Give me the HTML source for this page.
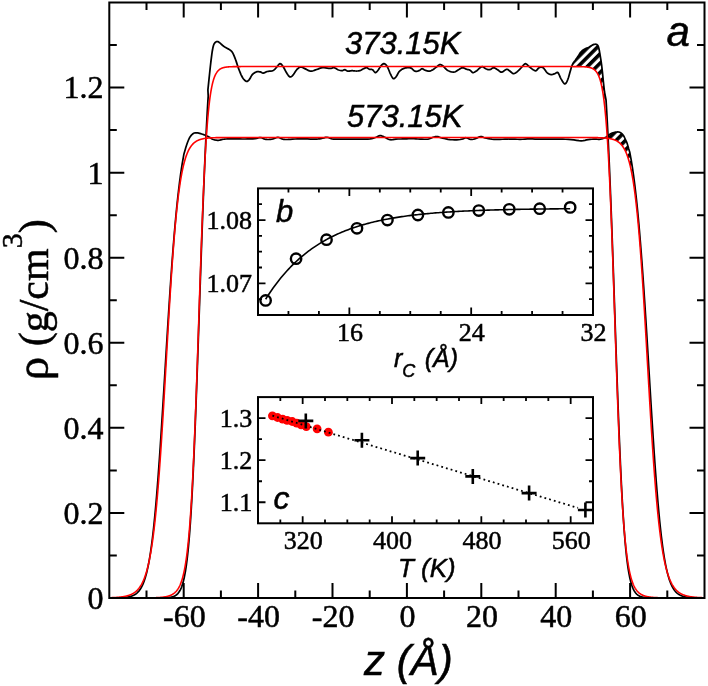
<!DOCTYPE html><html><head><meta charset="utf-8"><style>html,body{margin:0;padding:0;background:#fff;}svg{display:block;will-change:transform;} text{stroke:#000;stroke-width:0.5px;}</style></head><body><svg width="708" height="686" viewBox="0 0 708 686">
<defs><pattern id="hp" patternUnits="userSpaceOnUse" x="-1.4" y="0" width="6.6" height="6.6" patternTransform="rotate(45)"><rect x="0" y="0" width="3.6" height="6.6" fill="#000"/></pattern><clipPath id="mc"><rect x="109.3" y="2.5" width="595.2" height="595.5"/></clipPath></defs>
<rect width="708" height="686" fill="#fff"/>
<polygon points="570.7,69.7 571.14,68.27 571.53,67.04 571.89,65.96 572.26,64.97 572.7,64 573.2,63.1 573.75,62.3 574.32,61.55 574.91,60.8 575.5,60 576.12,59.11 576.77,58.17 577.42,57.22 578.05,56.32 578.6,55.5 579.05,54.79 579.41,54.15 579.75,53.57 580.13,52.99 580.6,52.4 581.18,51.78 581.82,51.14 582.52,50.52 583.25,49.93 584,49.4 584.82,48.94 585.71,48.53 586.62,48.16 587.47,47.82 588.2,47.5 588.77,47.21 589.23,46.95 589.63,46.71 590.03,46.47 590.5,46.2 591.05,45.88 591.63,45.52 592.23,45.16 592.83,44.84 593.4,44.6 593.95,44.43 594.5,44.31 595.03,44.25 595.54,44.24 596,44.3 596.42,44.41 596.81,44.56 597.16,44.78 597.49,45.09 597.8,45.5 598.08,46.02 598.33,46.64 598.56,47.35 598.78,48.14 599,49 599.21,49.94 599.4,50.96 599.6,52.06 599.79,53.24 600,54.5 600.23,55.86 600.48,57.33 600.72,58.87 600.97,60.44 601.2,62 601.41,63.5 601.6,64.97 601.8,66.49 601.99,68.14 602.2,70 602.43,72.18 602.67,74.61 602.92,77.15 603.16,79.66 603.4,82 603.64,84.29 603.9,86.62 604.14,88.82 604.35,90.67 604.5,92 605.84,118.47 605.68,116.62 605.52,114.84 605.36,113.11 605.2,111.43 605.03,109.82 604.87,108.25 604.71,106.74 604.55,105.27 604.39,103.86 604.23,102.49 604.07,101.18 603.91,99.9 603.75,98.67 603.59,97.48 603.43,96.34 603.27,95.23 603.11,94.16 602.95,93.13 602.79,92.14 602.63,91.18 602.47,90.26 602.31,89.37 602.15,88.51 601.99,87.68 601.83,86.88 601.67,86.11 601.52,85.37 601.36,84.66 601.2,83.97 601.04,83.31 600.88,82.67 600.72,82.06 600.57,81.47 600.41,80.9 600.25,80.35 600.09,79.82 599.93,79.31 599.78,78.82 599.62,78.35 599.46,77.9 599.3,77.46 599.15,77.04 598.99,76.64 598.83,76.25 598.67,75.88 598.52,75.52 598.36,75.17 598.2,74.84 598.05,74.52 597.89,74.21 597.73,73.91 597.57,73.63 597.42,73.35 597.26,73.09 597.1,72.84 596.95,72.59 596.79,72.36 596.63,72.13 596.47,71.91 596.32,71.71 596.16,71.51 596,71.31 595.85,71.13 595.69,70.95 595.53,70.78 595.38,70.61 595.22,70.46 595.06,70.3 594.9,70.16 594.75,70.02 594.59,69.88 594.43,69.75 594.28,69.63 594.12,69.51 593.96,69.39 593.8,69.28 593.65,69.17 593.49,69.07 593.33,68.97 593.17,68.88 593.01,68.79 592.86,68.7 592.7,68.62 592.54,68.54 592.38,68.46 592.22,68.38 592.07,68.31 591.91,68.24 591.75,68.18 591.59,68.11 591.43,68.05 591.27,67.99 591.12,67.94 590.96,67.88 590.8,67.83 590.64,67.78 590.48,67.73 590.32,67.69 590.16,67.64 590,67.6 589.84,67.56 589.68,67.52 589.52,67.48 589.36,67.45 589.2,67.41 589.04,67.38 588.88,67.35 588.72,67.31 588.56,67.28 588.4,67.26 588.23,67.23 588.07,67.2 587.91,67.18 587.75,67.15 587.59,67.13 587.43,67.11 587.26,67.09 587.1,67.06 586.94,67.04 586.78,67.03 586.61,67.01 586.45,66.99 586.29,66.97 586.12,66.96 585.96,66.94 585.79,66.92 585.63,66.91 585.47,66.9 585.3,66.88 585.14,66.87 584.97,66.86 584.8,66.85 584.64,66.83 584.47,66.82 584.31,66.81 584.14,66.8 583.97,66.79 583.81,66.78 583.64,66.77 583.47,66.77 583.31,66.76 583.14,66.75 582.97,66.74 582.8,66.73 582.63,66.73 582.46,66.72 582.29,66.71 582.12,66.71 581.95,66.7 581.78,66.7 581.61,66.69 581.44,66.69 581.27,66.68 581.1,66.68 580.93,66.67 580.76,66.67 580.59,66.66 580.41,66.66 580.24,66.65 580.07,66.65 579.89,66.65 579.72,66.64 579.55,66.64 579.37,66.64 579.2,66.63 579.02,66.63 578.85,66.63 578.67,66.62 578.49,66.62 578.32,66.62 578.14,66.62 577.96,66.61 577.79,66.61 577.61,66.61 577.43,66.61 577.25,66.61 577.07,66.6 576.89,66.6 576.71,66.6 576.53,66.6 576.35,66.6 576.17,66.59 575.99,66.59 575.81,66.59 575.63,66.59 575.44,66.59 575.26,66.59 575.08,66.59 574.89,66.58 574.71,66.58 574.52,66.58 574.34,66.58 574.15,66.58 573.97,66.58 573.78,66.58 573.59,66.58 573.41,66.58 573.22,66.58 573.03,66.58 572.84,66.57 572.65,66.57 572.47,66.57 572.28,66.57 572.08,66.57 571.89,66.57 571.7,66.57 571.51,66.57 571.32,66.57 571.13,66.57 570.93,66.57 570.74,66.57 570.55,66.57" fill="url(#hp)" stroke="none"/>
<polygon points="607.8,135.9 608.51,135.36 609.07,134.84 609.63,134.35 610.3,133.9 611.16,133.49 612.12,133.11 613.1,132.77 614,132.5 614.8,132.3 615.54,132.16 616.24,132.06 616.9,132 617.5,131.96 618.05,131.96 618.57,132 619.1,132.1 619.63,132.26 620.15,132.46 620.67,132.74 621.2,133.1 621.75,133.55 622.32,134.09 622.88,134.7 623.4,135.4 623.88,136.19 624.32,137.08 624.75,138.02 625.2,139 625.68,140 626.17,141.05 626.65,142.15 627.1,143.3 627.54,144.66 627.97,146.17 628.34,147.54 628.6,148.5 629.7,152 629.95,153.28 630.2,154.59 630.45,155.93 630.7,157.31 630.95,158.72 631.21,160.16 631.46,161.64 631.71,163.16 631.96,164.71 631.86,173.63 631.61,172.32 631.36,171.05 631.11,169.83 630.85,168.65 630.6,167.5 630.35,166.4 630.1,165.33 629.85,164.3 629.59,163.31 629.34,162.35 629.09,161.43 628.84,160.54 628.59,159.67 628.34,158.84 628.09,158.04 627.84,157.27 627.59,156.53 627.34,155.81 627.09,155.12 626.84,154.45 626.59,153.81 626.34,153.19 626.09,152.6 625.84,152.02 625.59,151.47 625.34,150.94 625.09,150.43 624.84,149.93 624.59,149.46 624.34,149 624.09,148.56 623.84,148.13 623.59,147.73 623.34,147.33 623.09,146.96 622.85,146.59 622.6,146.24 622.35,145.9 622.1,145.58 621.85,145.27 621.6,144.97 621.35,144.68 621.11,144.4 620.86,144.14 620.61,143.88 620.36,143.63 620.11,143.4 619.87,143.17 619.62,142.95 619.37,142.74 619.12,142.53 618.87,142.34 618.63,142.15 618.38,141.97 618.13,141.8 617.88,141.63 617.64,141.47 617.39,141.31 617.14,141.17 616.89,141.02 616.64,140.89 616.4,140.75 616.15,140.63 615.9,140.51 615.65,140.39 615.41,140.28 615.16,140.17 614.91,140.06 614.67,139.96 614.42,139.87 614.17,139.78 613.92,139.69 613.68,139.6 613.43,139.52 613.18,139.44 612.93,139.36 612.69,139.29 612.44,139.22 612.19,139.16 611.94,139.09 611.7,139.03 611.45,138.97 611.2,138.91 610.95,138.86 610.71,138.8 610.46,138.75 610.21,138.7 609.96,138.66 609.72,138.61 609.47,138.57 609.22,138.53 608.97,138.49 608.73,138.45 608.48,138.41 608.23,138.38 607.98,138.34 607.73,138.31" fill="url(#hp)" stroke="none"/>
<g clip-path="url(#mc)" fill="none" stroke-linejoin="round">
<polyline points="109.4,597.97 109.64,597.97 109.89,597.97 110.13,597.96 110.37,597.96 110.62,597.96 110.86,597.96 111.1,597.96 111.35,597.96 111.59,597.95 111.83,597.95 112.08,597.95 112.32,597.95 112.56,597.94 112.81,597.94 113.05,597.94 113.29,597.94 113.54,597.93 113.78,597.93 114.02,597.93 114.27,597.92 114.51,597.92 114.75,597.92 115,597.91 115.24,597.91 115.48,597.9 115.73,597.9 115.97,597.89 116.21,597.89 116.46,597.88 116.7,597.88 116.94,597.87 117.19,597.87 117.43,597.86 117.67,597.86 117.92,597.85 118.16,597.84 118.4,597.83 118.65,597.83 118.89,597.82 119.13,597.81 119.38,597.8 119.62,597.79 119.86,597.78 120.11,597.77 120.35,597.76 120.59,597.75 120.84,597.74 121.08,597.73 121.32,597.71 121.57,597.7 121.81,597.69 122.05,597.67 122.3,597.66 122.54,597.64 122.78,597.63 123.03,597.61 123.27,597.59 123.51,597.57 123.76,597.55 124,597.53 124.24,597.51 124.49,597.49 124.73,597.46 124.97,597.44 125.22,597.41 125.46,597.39 125.7,597.36 125.95,597.33 126.19,597.3 126.43,597.27 126.68,597.23 126.92,597.2 127.16,597.16 127.41,597.12 127.65,597.08 127.89,597.04 128.14,597 128.38,596.95 128.62,596.9 128.87,596.85 129.11,596.8 129.35,596.75 129.6,596.69 129.84,596.63 130.08,596.57 130.33,596.5 130.57,596.44 130.81,596.37 131.06,596.29 131.3,596.21 131.54,596.13 131.79,596.05 132.03,595.96 132.27,595.87 132.52,595.77 132.76,595.67 133,595.57 133.25,595.46 133.49,595.35 133.73,595.23 133.98,595.1 134.22,594.97 134.46,594.84 134.71,594.7 134.95,594.55 135.19,594.4 135.44,594.24 135.68,594.07 135.92,593.9 136.17,593.72 136.41,593.53 136.65,593.33 136.9,593.12 137.14,592.91 137.38,592.69 137.63,592.45 137.87,592.21 138.11,591.96 138.36,591.7 138.6,591.42 138.84,591.14 139.09,590.84 139.33,590.53 139.57,590.21 139.82,589.87 140.06,589.52 140.3,589.16 140.55,588.78 140.79,588.39 141.03,587.98 141.28,587.55 141.52,587.11 141.76,586.65 142.01,586.17 142.25,585.68 142.49,585.16 142.74,584.62 142.98,584.07 143.22,583.49 143.47,582.89 143.71,582.26 143.95,581.62 144.2,580.95 144.44,580.25 144.68,579.53 144.93,578.78 145.17,578 145.41,577.2 145.66,576.36 145.9,575.5 146.14,574.61 146.39,573.68 146.63,572.72 146.87,571.73 147.12,570.71 147.36,569.65 147.6,568.55 147.85,567.42 148.09,566.25 148.33,565.04 148.58,563.79 148.82,562.5 149.06,561.17 149.31,559.8 149.55,558.38 149.79,556.93 150.04,555.42 150.28,553.87 150.52,552.28 150.77,550.64 151.01,548.95 151.25,547.21 151.5,545.42 151.74,543.59 151.98,541.7 152.23,539.76 152.47,537.77 152.71,535.73 152.96,533.64 153.2,531.49 153.44,529.29 153.69,527.04 153.93,524.73 154.17,522.37 154.42,519.95 154.66,517.48 154.9,514.95 155.15,512.37 155.39,509.74 155.63,507.05 155.88,504.3 156.12,501.51 156.36,498.66 156.61,495.75 156.85,492.79 157.09,489.78 157.34,486.72 157.58,483.61 157.82,480.45 158.07,477.23 158.31,473.97 158.55,470.66 158.8,467.31 159.04,463.91 159.28,460.47 159.53,456.98 159.77,453.45 160.01,449.88 160.26,446.28 160.5,442.63 160.74,438.96 160.99,435.24 161.23,431.5 161.47,427.72 161.72,423.92 161.96,420.09 162.2,416.23 162.45,412.35 162.69,408.45 162.93,404.54 163.18,400.6 163.42,396.65 163.66,392.68 163.91,388.71 164.15,384.73 164.39,380.74 164.64,376.74 164.88,372.74 165.12,368.74 165.37,364.74 165.61,360.75 165.85,356.76 166.1,352.78 166.34,348.8 166.58,344.84 166.83,340.89 167.07,336.96 167.31,333.04 167.56,329.14 167.8,325.26 168.04,321.41 168.29,317.57 168.53,313.76 168.77,309.98 169.02,306.23 169.26,302.5 169.5,298.81 169.75,295.14 169.99,291.52 170.23,287.92 170.48,284.36 170.72,280.84 170.96,277.36 171.21,273.91 171.45,270.51 171.69,267.14 171.94,263.82 172.18,260.53 172.42,257.29 172.67,254.09 172.91,250.94 173.15,247.83 173.4,244.77 173.64,241.75 173.88,238.77 174.13,235.84 174.37,232.96 174.61,230.12 174.86,227.32 175.1,224.58 175.34,221.88 175.59,219.22 175.83,216.61 176.07,214.05 176.32,211.53 176.56,209.06 176.8,206.64 177.05,204.25 177.29,201.92 177.53,199.63 177.78,197.38 178.02,195.17 178.26,193.01 178.51,190.9 178.75,188.82 178.99,186.79 179.24,184.8 179.48,182.85 179.72,180.94 179.97,179.08 180.21,177.25 180.45,175.46 180.7,173.71 180.94,172 181.18,170.33 181.43,168.69 181.67,167.09 181.91,165.53 182.16,164 183.8,154.6 184.16,153.32 184.68,151.47 185.25,149.44 185.8,147.6 186.3,146.01 186.8,144.49 187.3,143.04 187.8,141.7 188.29,140.46 188.77,139.32 189.26,138.27 189.8,137.3 190.38,136.42 190.99,135.62 191.64,134.91 192.3,134.3 192.98,133.78 193.69,133.34 194.42,133.01 195.2,132.8 196.02,132.73 196.89,132.78 197.78,132.92 198.7,133.1 199.64,133.33 200.62,133.62 201.61,133.96 202.6,134.3 203.62,134.65 204.66,135.03 205.67,135.42 206.6,135.8 207.42,136.17 208.17,136.53 208.88,136.9 209.6,137.3 210.31,137.77 210.99,138.28 211.7,138.78 212.5,139.2 213.45,139.54 214.49,139.82 215.54,140.04 216.5,140.2 217.32,140.29 218.07,140.31 218.78,140.28 219.5,140.2 220.18,140.05 220.82,139.83 221.53,139.6 222.4,139.4 223.44,139.24 224.61,139.1 225.92,138.98 227.4,138.9 229.06,138.86 230.89,138.86 232.87,138.88 235,138.9 237.33,138.93 239.85,138.97 242.44,139 245,139 247.61,138.97 250.29,138.93 252.83,138.85 255,138.7 256.69,138.4 258.04,137.99 259.2,137.64 260.3,137.5 261.33,137.69 262.23,138.09 263.09,138.55 264,138.9 264.96,139.13 265.92,139.32 266.92,139.45 268,139.5 269.18,139.46 270.44,139.34 271.73,139.15 273,138.9 274.25,138.5 275.51,137.96 276.73,137.5 277.9,137.3 278.98,137.5 280.01,137.96 281,138.5 282,138.9 282.89,139.15 283.69,139.33 284.65,139.45 286,139.5 287.88,139.44 290.12,139.29 292.56,139.12 295,139 297.43,138.94 299.94,138.91 302.48,138.89 305,138.9 307.59,138.95 310.25,139.03 312.78,139.09 315,139.1 316.78,139.04 318.25,138.94 319.59,138.8 321,138.6 322.52,138.26 324.06,137.82 325.57,137.44 327,137.3 328.25,137.53 329.38,138 330.56,138.52 332,138.9 333.74,139.08 335.69,139.16 337.79,139.19 340,139.2 342.36,139.18 344.88,139.11 347.45,139.03 350,139 352.5,139.03 355,139.11 357.5,139.18 360,139.2 362.59,139.19 365.25,139.16 367.78,139.08 370,138.9 371.83,138.59 373.38,138.19 374.73,137.74 376,137.3 377.14,136.81 378.12,136.27 379.05,135.82 380,135.6 380.95,135.68 381.88,135.97 382.86,136.4 384,136.9 385.36,137.57 386.88,138.42 388.45,139.2 390,139.7 391.43,139.78 392.81,139.59 394.29,139.3 396,139.1 398.09,139.02 400.44,138.98 402.82,138.95 405,138.9 406.87,138.81 408.56,138.71 410.23,138.62 412,138.6 413.93,138.68 415.94,138.83 417.98,138.99 420,139.1 422.07,139.18 424.19,139.24 426.21,139.24 428,139.1 429.48,138.75 430.75,138.25 431.89,137.72 433,137.3 434.07,136.98 435.06,136.71 436.02,136.54 437,136.5 437.93,136.65 438.81,136.95 439.79,137.33 441,137.7 442.5,138.1 444.21,138.54 446.06,138.96 448,139.3 450.11,139.56 452.39,139.76 454.65,139.89 456.7,139.9 458.52,139.77 460.21,139.51 461.71,139.2 463,138.9 463.94,138.54 464.59,138.12 465.2,137.79 466,137.7 467.06,138 468.26,138.59 469.53,139.18 470.8,139.5 472.08,139.47 473.41,139.24 474.73,138.89 476,138.5 477.22,137.99 478.41,137.35 479.56,136.78 480.7,136.5 481.74,136.61 482.71,136.99 483.74,137.48 485,137.9 486.54,138.26 488.27,138.63 490.12,138.96 492,139.2 493.88,139.32 495.81,139.35 497.84,139.33 500,139.3 502.36,139.24 504.88,139.14 507.45,139.04 510,139 512.5,139.05 515,139.16 517.5,139.26 520,139.3 522.5,139.23 525,139.1 527.5,138.97 530,138.9 532.5,138.94 535,139.03 537.5,139.14 540,139.2 542.5,139.2 545,139.17 547.5,139.13 550,139.1 552.47,139.08 554.92,139.06 557.41,139.06 560,139.1 562.77,139.17 565.66,139.27 568.54,139.41 571.3,139.6 573.94,139.91 576.52,140.31 578.96,140.65 581.2,140.8 583.16,140.65 584.89,140.31 586.53,139.91 588.2,139.6 589.97,139.41 591.76,139.26 593.47,139.16 595,139.1 596.27,139.13 597.36,139.23 598.36,139.32 599.4,139.3 600.49,139.17 601.57,138.96 602.64,138.68 603.7,138.3 604.78,137.79 605.86,137.16 606.89,136.5 607.8,135.9 608.51,135.36 609.07,134.84 609.63,134.35 610.3,133.9 611.16,133.49 612.12,133.11 613.1,132.77 614,132.5 614.8,132.3 615.54,132.16 616.24,132.06 616.9,132 617.5,131.96 618.05,131.96 618.57,132 619.1,132.1 619.63,132.26 620.15,132.46 620.67,132.74 621.2,133.1 621.75,133.55 622.32,134.09 622.88,134.7 623.4,135.4 623.88,136.19 624.32,137.08 624.75,138.02 625.2,139 625.68,140 626.17,141.05 626.65,142.15 627.1,143.3 627.54,144.66 627.97,146.17 628.34,147.54 628.6,148.5 629.7,152 629.95,153.28 630.2,154.59 630.45,155.93 630.7,157.31 630.95,158.72 631.21,160.16 631.46,161.64 631.71,163.16 631.96,164.71 632.21,166.3 632.46,167.93 632.71,169.6 632.96,171.3 633.21,173.05 633.46,174.84 633.71,176.66 633.96,178.53 634.21,180.44 634.46,182.4 634.71,184.39 634.96,186.43 635.21,188.52 635.46,190.65 635.71,192.82 635.96,195.04 636.22,197.31 636.47,199.62 636.72,201.98 636.97,204.39 637.22,206.84 637.47,209.35 637.72,211.9 637.97,214.5 638.22,217.14 638.47,219.84 638.72,222.58 638.97,225.38 639.22,228.22 639.47,231.11 639.72,234.05 639.97,237.04 640.22,240.07 640.47,243.16 640.72,246.29 640.97,249.47 641.23,252.69 641.48,255.97 641.73,259.29 641.98,262.65 642.23,266.06 642.48,269.51 642.73,273 642.98,276.54 643.23,280.12 643.48,283.74 643.73,287.39 643.98,291.09 644.23,294.82 644.48,298.59 644.73,302.39 644.98,306.22 645.23,310.09 645.48,313.98 645.73,317.9 645.98,321.85 646.23,325.83 646.49,329.82 646.74,333.84 646.99,337.88 647.24,341.93 647.49,346 647.74,350.08 647.99,354.18 648.24,358.28 648.49,362.39 648.74,366.5 648.99,370.62 649.24,374.74 649.49,378.85 649.74,382.96 649.99,387.07 650.24,391.16 650.49,395.25 650.74,399.32 650.99,403.38 651.24,407.42 651.5,411.43 651.75,415.43 652,419.41 652.25,423.35 652.5,427.27 652.75,431.16 653,435.02 653.25,438.84 653.5,442.63 653.75,446.38 654,450.09 654.25,453.76 654.5,457.39 654.75,460.97 655,464.51 655.25,468 655.5,471.44 655.75,474.84 656,478.18 656.25,481.47 656.51,484.71 656.76,487.89 657.01,491.03 657.26,494.1 657.51,497.12 657.76,500.09 658.01,502.99 658.26,505.84 658.51,508.64 658.76,511.37 659.01,514.05 659.26,516.67 659.51,519.23 659.76,521.73 660.01,524.18 660.26,526.57 660.51,528.9 660.76,531.17 661.01,533.39 661.26,535.55 661.52,537.65 661.77,539.7 662.02,541.7 662.27,543.64 662.52,545.53 662.77,547.37 663.02,549.15 663.27,550.88 663.52,552.56 663.77,554.2 664.02,555.78 664.27,557.31 664.52,558.8 664.77,560.25 665.02,561.64 665.27,563 665.52,564.31 665.77,565.58 666.02,566.8 666.27,567.99 666.52,569.14 666.78,570.24 667.03,571.31 667.28,572.35 667.53,573.35 667.78,574.31 668.03,575.24 668.28,576.14 668.53,577 668.78,577.84 669.03,578.64 669.28,579.42 669.53,580.17 669.78,580.88 670.03,581.58 670.28,582.24 670.53,582.89 670.78,583.5 671.03,584.1 671.28,584.67 671.53,585.22 671.79,585.75 672.04,586.26 672.29,586.75 672.54,587.22 672.79,587.67 673.04,588.1 673.29,588.52 673.54,588.92 673.79,589.3 674.04,589.67 674.29,590.02 674.54,590.36 674.79,590.69 675.04,591 675.29,591.3 675.54,591.58 675.79,591.86 676.04,592.12 676.29,592.38 676.54,592.62 676.8,592.85 677.05,593.08 677.3,593.29 677.55,593.49 677.8,593.69 678.05,593.88 678.3,594.06 678.55,594.23 678.8,594.39 679.05,594.55 679.3,594.7 679.55,594.85 679.8,594.99 680.05,595.12 680.3,595.25 680.55,595.37 680.8,595.48 681.05,595.59 681.3,595.7 681.55,595.8 681.81,595.9 682.06,595.99 682.31,596.08 682.56,596.17 682.81,596.25 683.06,596.33 683.31,596.4 683.56,596.47 683.81,596.54 684.06,596.61 684.31,596.67 684.56,596.73 684.81,596.79 685.06,596.84 685.31,596.89 685.56,596.94 685.81,596.99 686.06,597.03 686.31,597.08 686.56,597.12 686.81,597.16 687.07,597.2 687.32,597.23 687.57,597.27 687.82,597.3 688.07,597.33 688.32,597.36 688.57,597.39 688.82,597.42 689.07,597.44 689.32,597.47 689.57,597.49 689.82,597.52 690.07,597.54 690.32,597.56 690.57,597.58 690.82,597.6 691.07,597.62 691.32,597.63 691.57,597.65 691.82,597.67 692.08,597.68 692.33,597.7 692.58,597.71 692.83,597.72 693.08,597.74 693.33,597.75 693.58,597.76 693.83,597.77 694.08,597.78 694.33,597.79 694.58,597.8 694.83,597.81 695.08,597.82 695.33,597.83 695.58,597.83 695.83,597.84 696.08,597.85 696.33,597.86 696.58,597.86 696.83,597.87 697.09,597.87 697.34,597.88 697.59,597.89 697.84,597.89 698.09,597.9 698.34,597.9 698.59,597.9 698.84,597.91 699.09,597.91 699.34,597.92 699.59,597.92 699.84,597.92 700.09,597.93 700.34,597.93 700.59,597.93 700.84,597.94 701.09,597.94 701.34,597.94 701.59,597.95 701.84,597.95 702.1,597.95 702.35,597.95 702.6,597.95 702.85,597.96 703.1,597.96 703.35,597.96 703.6,597.96 703.85,597.96 704.1,597.97 704.35,597.97 704.6,597.97" stroke="#000" stroke-width="1.7"/>
<polyline points="109.4,598 109.73,598 110.06,598 110.39,598 110.72,598 111.05,598 111.38,598 111.71,598 112.04,598 112.37,598 112.7,598 113.04,598 113.37,598 113.7,598 114.03,598 114.36,598 114.69,598 115.02,598 115.35,598 115.68,598 116.01,598 116.34,598 116.67,598 117,598 117.33,598 117.66,598 117.99,598 118.32,598 118.65,598 118.98,598 119.31,598 119.64,598 119.98,598 120.31,598 120.64,598 120.97,598 121.3,598 121.63,598 121.96,598 122.29,598 122.62,598 122.95,598 123.28,598 123.61,598 123.94,598 124.27,598 124.6,598 124.93,598 125.26,598 125.59,598 125.92,598 126.25,598 126.58,598 126.92,598 127.25,598 127.58,598 127.91,598 128.24,598 128.57,598 128.9,598 129.23,598 129.56,598 129.89,598 130.22,598 130.55,598 130.88,598 131.21,598 131.54,598 131.87,598 132.2,598 132.53,598 132.86,598 133.19,598 133.52,598 133.86,598 134.19,598 134.52,598 134.85,598 135.18,598 135.51,598 135.84,598 136.17,598 136.5,598 136.83,598 137.16,598 137.49,598 137.82,598 138.15,598 138.48,598 138.81,598 139.14,598 139.47,598 139.8,598 140.13,598 140.46,598 140.8,598 141.13,598 141.46,598 141.79,598 142.12,598 142.45,598 142.78,598 143.11,598 143.44,598 143.77,598 144.1,598 144.43,598 144.76,598 145.09,598 145.42,598 145.75,598 146.08,598 146.41,598 146.74,598 147.07,598 147.4,598 147.73,598 148.07,598 148.4,598 148.73,598 149.06,598 149.39,598 149.72,598 150.05,598 150.38,598 150.71,598 151.04,597.99 151.37,597.99 151.7,597.99 152.03,597.99 152.36,597.99 152.69,597.99 153.02,597.99 153.35,597.99 153.68,597.99 154.01,597.99 154.34,597.99 154.67,597.99 155.01,597.99 155.34,597.98 155.67,597.98 156,597.98 156.33,597.98 156.66,597.98 156.99,597.98 157.32,597.97 157.65,597.97 157.98,597.97 158.31,597.97 158.64,597.96 158.97,597.96 159.3,597.96 159.63,597.95 159.96,597.95 160.29,597.94 160.62,597.94 160.95,597.93 161.28,597.93 161.61,597.92 161.95,597.92 162.28,597.91 162.61,597.9 162.94,597.89 163.27,597.88 163.6,597.87 163.93,597.86 164.26,597.85 164.59,597.84 164.92,597.82 165.25,597.81 165.58,597.79 165.91,597.77 166.24,597.75 166.57,597.73 166.9,597.71 167.23,597.68 167.56,597.65 167.89,597.62 168.22,597.59 168.55,597.56 168.89,597.52 169.22,597.48 169.55,597.43 169.88,597.38 170.21,597.33 170.54,597.27 170.87,597.21 171.2,597.14 171.53,597.06 171.86,596.98 172.19,596.89 172.52,596.8 172.85,596.7 173.18,596.58 173.51,596.46 173.84,596.33 174.17,596.19 174.5,596.03 174.83,595.86 175.16,595.68 175.49,595.48 175.83,595.27 176.16,595.04 176.49,594.79 176.82,594.51 177.15,594.22 177.48,593.9 177.81,593.55 178.14,593.18 178.47,592.77 178.8,592.34 179.13,591.86 179.46,591.35 179.79,590.8 180.12,590.2 180.45,589.56 180.78,588.87 181.11,588.12 181.44,587.31 181.77,586.44 182.1,585.5 182.43,584.49 182.77,583.4 183.1,582.23 183.43,580.97 183.76,579.62 184.09,578.18 184.42,576.62 184.75,574.95 185.08,573.17 185.41,571.26 185.74,569.22 186.07,567.03 186.4,564.7 186.73,562.22 187.06,559.57 187.39,556.75 187.72,553.75 188.05,550.57 188.38,547.19 188.71,543.61 189.04,539.82 189.37,535.82 189.71,531.59 190.04,527.14 190.37,522.44 190.7,517.51 191.03,512.34 191.36,506.91 191.69,501.23 192.02,495.3 192.35,489.11 192.68,482.67 193.01,475.98 193.34,469.03 193.67,461.84 194,454.4 194.33,446.73 194.66,438.82 194.99,430.7 195.32,422.37 195.65,413.83 195.98,405.11 196.31,396.22 196.65,387.16 196.98,377.97 197.31,368.65 197.64,359.22 197.97,349.69 198.3,340.1 198.63,330.45 198.96,320.77 199.29,311.07 199.62,301.37 199.95,291.7 200.28,282.06 200.61,272.48 200.94,262.98 201.27,253.57 201.6,244.27 201.93,235.09 202.26,226.04 202.59,217.15 202.92,208.41 203.25,199.84 203.59,191.46 203.92,183.27 204.25,175.27 204.58,167.48 204.91,159.89 205.24,152.52 205.57,145.37 205.9,138.43 206.23,131.71 206.56,125.21 206.89,118.94 207.22,112.88 207.55,107.04 207.88,101.41 208.21,96 207.9,89.9 208.32,85.82 208.93,79.92 209.63,73.23 210.32,66.78 210.9,61.6 211.37,57.77 211.78,54.61 212.16,51.98 212.52,49.76 212.9,47.8 213.28,46.19 213.63,45.03 213.99,44.18 214.38,43.51 214.8,42.9 215.28,42.35 215.8,41.95 216.34,41.69 216.88,41.54 217.4,41.5 217.87,41.57 218.3,41.77 218.74,42.07 219.23,42.45 219.8,42.9 220.45,43.43 221.15,44.07 221.92,44.77 222.76,45.49 223.7,46.2 224.82,46.91 226.1,47.65 227.42,48.4 228.66,49.12 229.7,49.8 230.48,50.36 231.08,50.81 231.58,51.28 232.06,51.87 232.6,52.7 233.19,53.81 233.79,55.11 234.4,56.57 235,58.11 235.6,59.7 236.19,61.36 236.76,63.12 237.34,64.95 237.94,66.79 238.6,68.6 239.32,70.46 240.09,72.4 240.89,74.3 241.7,76.04 242.5,77.5 243.31,78.69 244.15,79.7 244.97,80.5 245.77,81.08 246.5,81.4 247.15,81.42 247.73,81.16 248.29,80.69 248.83,80.08 249.4,79.4 249.98,78.57 250.54,77.54 251.12,76.43 251.73,75.38 252.4,74.5 253.14,73.79 253.93,73.17 254.76,72.64 255.59,72.22 256.4,71.9 257.2,71.71 258.01,71.66 258.81,71.69 259.58,71.78 260.3,71.9 260.94,72.11 261.52,72.43 262.08,72.76 262.66,73.02 263.3,73.1 263.99,72.95 264.69,72.63 265.45,72.23 266.27,71.83 267.2,71.5 268.3,71.31 269.55,71.2 270.85,71.08 272.1,70.88 273.2,70.5 274.13,69.89 274.95,69.11 275.71,68.23 276.41,67.37 277.1,66.6 277.76,65.85 278.36,65.05 278.94,64.32 279.51,63.8 280.1,63.6 280.69,63.75 281.26,64.18 281.84,64.83 282.44,65.65 283.1,66.6 283.84,67.79 284.64,69.25 285.46,70.8 286.26,72.28 287,73.5 287.66,74.49 288.27,75.36 288.85,76.08 289.42,76.61 290,76.9 290.57,76.93 291.11,76.74 291.67,76.34 292.25,75.79 292.9,75.1 293.63,74.17 294.43,72.98 295.25,71.7 296.09,70.48 296.9,69.5 297.68,68.74 298.46,68.08 299.24,67.56 300.02,67.19 300.8,67 301.56,67.04 302.3,67.3 303.06,67.7 303.88,68.16 304.8,68.6 305.86,69.11 307.02,69.73 308.24,70.35 309.48,70.85 310.7,71.1 311.9,71.05 313.1,70.77 314.3,70.36 315.5,69.9 316.7,69.5 317.86,69.1 319,68.63 320.14,68.18 321.33,67.81 322.6,67.6 324.04,67.61 325.62,67.8 327.21,68.06 328.71,68.29 330,68.4 331.02,68.31 331.85,68.1 332.57,67.86 333.26,67.69 334,67.7 334.78,67.94 335.56,68.35 336.34,68.84 337.12,69.32 337.9,69.7 338.71,70 339.55,70.27 340.37,70.49 341.17,70.64 341.9,70.7 342.55,70.59 343.13,70.32 343.69,70.02 344.23,69.77 344.8,69.7 345.38,69.87 345.94,70.22 346.52,70.62 347.13,70.99 347.8,71.2 348.54,71.22 349.33,71.11 350.16,70.94 350.99,70.78 351.8,70.7 352.58,70.72 353.36,70.79 354.14,70.88 354.92,70.97 355.7,71 356.5,71.01 357.3,71 358.1,70.97 358.9,70.88 359.7,70.7 360.5,70.39 361.31,69.97 362.11,69.51 362.88,69.06 363.6,68.7 364.26,68.39 364.87,68.1 365.45,67.86 366.02,67.72 366.6,67.7 367.18,67.87 367.76,68.21 368.34,68.62 368.92,69.02 369.5,69.3 370.09,69.42 370.69,69.43 371.3,69.42 371.9,69.48 372.5,69.7 373.1,70.21 373.7,70.96 374.31,71.74 374.91,72.35 375.5,72.6 376.08,72.42 376.66,71.93 377.24,71.25 377.82,70.47 378.4,69.7 378.99,68.87 379.59,67.91 380.2,66.93 380.8,66.02 381.4,65.3 382,64.73 382.6,64.24 383.21,63.87 383.81,63.68 384.4,63.7 384.98,63.94 385.56,64.38 386.14,65 386.72,65.78 387.3,66.7 387.89,67.86 388.49,69.27 389.1,70.79 389.7,72.28 390.3,73.6 390.9,74.83 391.5,76.07 392.11,77.2 392.71,78.08 393.3,78.6 393.88,78.7 394.46,78.45 395.04,77.95 395.62,77.3 396.2,76.6 396.78,75.76 397.34,74.72 397.92,73.59 398.53,72.51 399.2,71.6 399.94,70.86 400.73,70.2 401.56,69.62 402.39,69.12 403.2,68.7 403.98,68.36 404.76,68.1 405.54,67.91 406.32,67.78 407.1,67.7 407.9,67.65 408.7,67.63 409.5,67.68 410.3,67.82 411.1,68.1 411.88,68.6 412.66,69.32 413.44,70.09 414.22,70.77 415,71.2 415.81,71.35 416.64,71.33 417.47,71.18 418.26,70.95 419,70.7 419.67,70.34 420.28,69.84 420.86,69.33 421.42,68.91 422,68.7 422.57,68.77 423.11,69.03 423.67,69.4 424.25,69.78 424.9,70.1 425.63,70.38 426.43,70.69 427.25,70.96 428.09,71.15 428.9,71.2 429.68,71.09 430.46,70.86 431.24,70.53 432.02,70.14 432.8,69.7 433.61,69.18 434.45,68.56 435.27,67.9 436.07,67.26 436.8,66.7 437.45,66.19 438.03,65.68 438.59,65.24 439.13,64.89 439.7,64.7 440.28,64.66 440.84,64.74 441.42,64.94 442.03,65.26 442.7,65.7 443.44,66.34 444.23,67.18 445.06,68.11 445.89,68.99 446.7,69.7 447.48,70.24 448.26,70.68 449.04,71.05 449.82,71.35 450.6,71.6 451.4,71.82 452.2,72 453,72.11 453.8,72.12 454.6,72 455.38,71.71 456.16,71.26 456.94,70.73 457.72,70.18 458.5,69.7 459.3,69.22 460.1,68.71 460.9,68.23 461.7,67.87 462.5,67.7 463.29,67.78 464.08,68.07 464.87,68.47 465.64,68.88 466.4,69.2 467.15,69.41 467.9,69.57 468.62,69.72 469.33,69.92 470,70.2 470.61,70.66 471.16,71.27 471.7,71.88 472.27,72.37 472.9,72.6 473.6,72.53 474.34,72.25 475.11,71.82 475.93,71.28 476.8,70.7 477.75,69.94 478.77,68.96 479.83,67.97 480.85,67.15 481.8,66.7 482.65,66.73 483.43,67.12 484.19,67.68 484.93,68.27 485.7,68.7 486.5,69.01 487.3,69.32 488.1,69.56 488.9,69.71 489.7,69.7 490.48,69.43 491.26,68.92 492.04,68.36 492.82,67.89 493.6,67.7 494.4,67.84 495.2,68.19 496,68.67 496.8,69.2 497.6,69.7 498.37,70.25 499.11,70.92 499.87,71.56 500.65,72.04 501.5,72.2 502.46,71.9 503.52,71.22 504.6,70.41 505.62,69.69 506.5,69.3 507.2,69.28 507.76,69.48 508.26,69.83 508.78,70.26 509.4,70.7 510.13,71.26 510.93,71.99 511.75,72.72 512.59,73.31 513.4,73.6 514.18,73.54 514.96,73.24 515.74,72.77 516.52,72.2 517.3,71.6 518.09,70.94 518.89,70.18 519.7,69.36 520.5,68.52 521.3,67.7 522.1,66.79 522.9,65.77 523.71,64.8 524.51,64.05 525.3,63.7 526.08,63.85 526.86,64.4 527.64,65.16 528.42,65.99 529.2,66.7 530.01,67.33 530.85,68 531.67,68.64 532.47,69.23 533.2,69.7 533.85,70.09 534.43,70.44 534.99,70.68 535.53,70.79 536.1,70.7 536.68,70.31 537.24,69.64 537.82,68.88 538.43,68.17 539.1,67.7 539.84,67.43 540.63,67.25 541.46,67.2 542.29,67.34 543.1,67.7 543.88,68.41 544.66,69.45 545.44,70.61 546.22,71.73 547,72.6 547.8,73.23 548.6,73.75 549.4,74.16 550.2,74.44 551,74.6 551.8,74.59 552.61,74.42 553.41,74.14 554.18,73.85 554.9,73.6 555.56,73.29 556.16,72.86 556.74,72.5 557.31,72.35 557.9,72.6 558.49,73.36 559.06,74.53 559.64,75.91 560.24,77.33 560.9,78.6 561.64,79.86 562.44,81.24 563.26,82.51 564.06,83.47 564.8,83.9 565.46,83.73 566.07,83.1 566.65,82.11 567.22,80.88 567.8,79.5 568.4,77.82 569.01,75.77 569.61,73.58 570.18,71.48 570.7,69.7 571.14,68.27 571.53,67.04 571.89,65.96 572.26,64.97 572.7,64 573.2,63.1 573.75,62.3 574.32,61.55 574.91,60.8 575.5,60 576.12,59.11 576.77,58.17 577.42,57.22 578.05,56.32 578.6,55.5 579.05,54.79 579.41,54.15 579.75,53.57 580.13,52.99 580.6,52.4 581.18,51.78 581.82,51.14 582.52,50.52 583.25,49.93 584,49.4 584.82,48.94 585.71,48.53 586.62,48.16 587.47,47.82 588.2,47.5 588.77,47.21 589.23,46.95 589.63,46.71 590.03,46.47 590.5,46.2 591.05,45.88 591.63,45.52 592.23,45.16 592.83,44.84 593.4,44.6 593.95,44.43 594.5,44.31 595.03,44.25 595.54,44.24 596,44.3 596.42,44.41 596.81,44.56 597.16,44.78 597.49,45.09 597.8,45.5 598.08,46.02 598.33,46.64 598.56,47.35 598.78,48.14 599,49 599.21,49.94 599.4,50.96 599.6,52.06 599.79,53.24 600,54.5 600.23,55.86 600.48,57.33 600.72,58.87 600.97,60.44 601.2,62 601.41,63.5 601.6,64.97 601.8,66.49 601.99,68.14 602.2,70 602.43,72.18 602.67,74.61 602.92,77.15 603.16,79.66 603.4,82 603.64,84.29 603.9,86.62 604.14,88.82 604.35,90.67 604.5,92 606.03,100 606.36,105.56 606.69,111.33 607.02,117.31 607.35,123.51 607.68,129.94 608.01,136.58 608.34,143.44 608.67,150.52 609,157.81 609.33,165.32 609.66,173.03 609.99,180.95 610.32,189.07 610.65,197.38 610.98,205.87 611.31,214.53 611.64,223.36 611.97,232.34 612.3,241.46 612.63,250.7 612.96,260.06 613.29,269.51 613.62,279.04 613.95,288.64 614.28,298.28 614.6,307.95 614.93,317.62 615.26,327.29 615.59,336.93 615.92,346.52 616.25,356.04 616.58,365.48 616.91,374.82 617.24,384.04 617.57,393.12 617.9,402.05 618.23,410.81 618.56,419.39 618.89,427.77 619.22,435.95 619.55,443.92 619.88,451.65 620.21,459.16 620.54,466.42 620.87,473.44 621.2,480.22 621.53,486.74 621.86,493 622.19,499.01 622.52,504.77 622.85,510.28 623.18,515.54 623.51,520.55 623.84,525.33 624.16,529.86 624.49,534.17 624.82,538.25 625.15,542.12 625.48,545.77 625.81,549.22 626.14,552.47 626.47,555.54 626.8,558.42 627.13,561.14 627.46,563.68 627.79,566.07 628.12,568.31 628.45,570.41 628.78,572.37 629.11,574.2 629.44,575.91 629.77,577.51 630.1,579 630.43,580.39 630.76,581.68 631.09,582.89 631.42,584.01 631.75,585.05 632.08,586.02 632.41,586.92 632.74,587.75 633.07,588.53 633.39,589.24 633.72,589.91 634.05,590.53 634.38,591.1 634.71,591.63 635.04,592.12 635.37,592.57 635.7,592.99 636.03,593.38 636.36,593.73 636.69,594.07 637.02,594.37 637.35,594.65 637.68,594.92 638.01,595.16 638.34,595.38 638.67,595.58 639,595.77 639.33,595.95 639.66,596.11 639.99,596.26 640.32,596.4 640.65,596.52 640.98,596.64 641.31,596.75 641.64,596.85 641.97,596.94 642.3,597.02 642.63,597.1 642.95,597.17 643.28,597.24 643.61,597.3 643.94,597.35 644.27,597.4 644.6,597.45 644.93,597.49 645.26,597.54 645.59,597.57 645.92,597.61 646.25,597.64 646.58,597.67 646.91,597.69 647.24,597.72 647.57,597.74 647.9,597.76 648.23,597.78 648.56,597.8 648.89,597.81 649.22,597.83 649.55,597.84 649.88,597.85 650.21,597.87 650.54,597.88 650.87,597.89 651.2,597.9 651.53,597.9 651.86,597.91 652.19,597.92 652.51,597.93 652.84,597.93 653.17,597.94 653.5,597.94 653.83,597.95 654.16,597.95 654.49,597.95 654.82,597.96 655.15,597.96 655.48,597.96 655.81,597.97 656.14,597.97 656.47,597.97 656.8,597.97 657.13,597.98 657.46,597.98 657.79,597.98 658.12,597.98 658.45,597.98 658.78,597.98 659.11,597.99 659.44,597.99 659.77,597.99 660.1,597.99 660.43,597.99 660.76,597.99 661.09,597.99 661.42,597.99 661.75,597.99 662.07,597.99 662.4,597.99 662.73,597.99 663.06,597.99 663.39,598 663.72,598 664.05,598 664.38,598 664.71,598 665.04,598 665.37,598 665.7,598 666.03,598 666.36,598 666.69,598 667.02,598 667.35,598 667.68,598 668.01,598 668.34,598 668.67,598 669,598 669.33,598 669.66,598 669.99,598 670.32,598 670.65,598 670.98,598 671.31,598 671.63,598 671.96,598 672.29,598 672.62,598 672.95,598 673.28,598 673.61,598 673.94,598 674.27,598 674.6,598 674.93,598 675.26,598 675.59,598 675.92,598 676.25,598 676.58,598 676.91,598 677.24,598 677.57,598 677.9,598 678.23,598 678.56,598 678.89,598 679.22,598 679.55,598 679.88,598 680.21,598 680.54,598 680.86,598 681.19,598 681.52,598 681.85,598 682.18,598 682.51,598 682.84,598 683.17,598 683.5,598 683.83,598 684.16,598 684.49,598 684.82,598 685.15,598 685.48,598 685.81,598 686.14,598 686.47,598 686.8,598 687.13,598 687.46,598 687.79,598 688.12,598 688.45,598 688.78,598 689.11,598 689.44,598 689.77,598 690.1,598 690.42,598 690.75,598 691.08,598 691.41,598 691.74,598 692.07,598 692.4,598 692.73,598 693.06,598 693.39,598 693.72,598 694.05,598 694.38,598 694.71,598 695.04,598 695.37,598 695.7,598 696.03,598 696.36,598 696.69,598 697.02,598 697.35,598 697.68,598 698.01,598 698.34,598 698.67,598 699,598 699.33,598 699.66,598 699.98,598 700.31,598 700.64,598 700.97,598 701.3,598 701.63,598 701.96,598 702.29,598 702.62,598 702.95,598 703.28,598 703.61,598 703.94,598 704.27,598 704.6,598" stroke="#000" stroke-width="1.75"/>
<polyline points="100.31,597.91 100.68,597.9 101.04,597.9 101.41,597.9 101.77,597.89 102.14,597.89 102.5,597.88 102.86,597.88 103.22,597.87 103.58,597.87 103.94,597.86 104.3,597.86 104.66,597.85 105.02,597.84 105.38,597.84 105.73,597.83 106.09,597.82 106.44,597.82 106.8,597.81 107.15,597.8 107.51,597.79 107.86,597.79 108.21,597.78 108.56,597.77 108.91,597.76 109.26,597.75 109.61,597.74 109.96,597.73 110.31,597.72 110.66,597.7 111,597.69 111.35,597.68 111.7,597.67 112.04,597.65 112.39,597.64 112.73,597.62 113.07,597.61 113.42,597.59 113.76,597.58 114.1,597.56 114.44,597.54 114.78,597.52 115.12,597.5 115.46,597.48 115.8,597.46 116.14,597.44 116.47,597.42 116.81,597.39 117.14,597.37 117.48,597.34 117.82,597.32 118.15,597.29 118.48,597.26 118.82,597.23 119.15,597.2 119.48,597.16 119.81,597.13 120.14,597.09 120.47,597.06 120.8,597.02 121.13,596.98 121.46,596.94 121.79,596.89 122.12,596.85 122.44,596.8 122.77,596.75 123.09,596.7 123.42,596.65 123.74,596.59 124.07,596.54 124.39,596.48 124.71,596.41 125.04,596.35 125.36,596.28 125.68,596.21 126,596.14 126.32,596.06 126.64,595.99 126.96,595.9 127.28,595.82 127.6,595.73 127.91,595.64 128.23,595.54 128.55,595.44 128.86,595.34 129.18,595.23 129.49,595.12 129.81,595 130.12,594.88 130.44,594.75 130.75,594.62 131.06,594.48 131.37,594.34 131.68,594.19 132,594.04 132.31,593.88 132.62,593.71 132.93,593.54 133.23,593.36 133.54,593.17 133.85,592.97 134.16,592.77 134.47,592.56 134.77,592.34 135.08,592.11 135.38,591.87 135.69,591.63 135.99,591.37 136.3,591.1 136.6,590.82 136.9,590.54 137.21,590.24 137.51,589.92 137.81,589.6 138.11,589.26 138.41,588.91 138.71,588.55 139.01,588.17 139.31,587.78 139.61,587.37 139.91,586.95 140.21,586.51 140.51,586.05 140.8,585.57 141.1,585.08 141.4,584.57 141.69,584.03 141.99,583.48 142.28,582.91 142.58,582.31 142.87,581.69 143.16,581.05 143.46,580.39 143.75,579.69 144.04,578.98 144.34,578.23 144.63,577.46 144.92,576.66 145.21,575.83 145.5,574.97 145.79,574.08 146.08,573.15 146.37,572.19 146.66,571.2 146.95,570.17 147.23,569.11 147.52,568 147.81,566.86 148.09,565.68 148.38,564.45 148.67,563.18 148.95,561.87 149.24,560.52 149.52,559.11 149.81,557.66 150.09,556.16 150.37,554.61 150.66,553.01 150.94,551.36 151.22,549.66 151.51,547.9 151.79,546.08 152.07,544.2 152.35,542.27 152.63,540.28 152.91,538.23 153.19,536.11 153.47,533.94 153.75,531.69 154.03,529.39 154.31,527.02 154.59,524.58 154.86,522.07 155.14,519.5 155.42,516.85 155.69,514.14 155.97,511.36 156.25,508.51 156.52,505.58 156.8,502.59 157.07,499.52 157.35,496.39 157.62,493.18 157.9,489.9 158.17,486.55 158.44,483.13 158.72,479.64 158.99,476.09 159.26,472.46 159.54,468.77 159.81,465.02 160.08,461.2 160.35,457.31 160.62,453.37 160.89,449.36 161.16,445.3 161.43,441.19 161.7,437.02 161.97,432.8 162.24,428.53 162.51,424.22 162.78,419.87 163.05,415.47 163.31,411.04 163.58,406.58 163.85,402.08 164.12,397.56 164.38,393.01 164.65,388.45 164.92,383.87 165.18,379.27 165.45,374.67 165.71,370.06 165.98,365.45 166.25,360.84 166.51,356.23 166.77,351.64 167.04,347.06 167.3,342.49 167.57,337.95 167.83,333.42 168.09,328.93 168.36,324.46 168.62,320.03 168.88,315.64 169.14,311.28 169.41,306.97 169.67,302.7 169.93,298.48 170.19,294.32 170.45,290.2 170.71,286.14 170.97,282.14 171.23,278.19 171.49,274.31 171.75,270.49 172.01,266.73 172.27,263.04 172.53,259.42 172.79,255.86 173.05,252.37 173.31,248.95 173.57,245.61 173.82,242.33 174.08,239.12 174.34,235.98 174.6,232.92 174.86,229.92 175.11,227 175.37,224.15 175.63,221.36 175.88,218.65 176.14,216.01 176.4,213.43 176.65,210.93 176.91,208.49 177.16,206.12 177.42,203.81 177.67,201.57 177.93,199.39 178.18,197.28 178.44,195.23 178.69,193.23 178.95,191.3 179.2,189.43 179.46,187.61 179.71,185.85 179.96,184.14 180.22,182.49 180.47,180.89 180.72,179.34 180.98,177.84 181.23,176.39 181.48,174.99 181.74,173.63 181.99,172.32 182.24,171.05 182.49,169.83 182.75,168.65 183,167.5 183.25,166.4 183.5,165.33 183.75,164.3 184.01,163.31 184.26,162.35 184.51,161.43 184.76,160.54 185.01,159.67 185.26,158.84 185.51,158.04 185.76,157.27 186.01,156.53 186.26,155.81 186.51,155.12 186.76,154.45 187.01,153.81 187.26,153.19 187.51,152.6 187.76,152.02 188.01,151.47 188.26,150.94 188.51,150.43 188.76,149.93 189.01,149.46 189.26,149 189.51,148.56 189.76,148.13 190.01,147.73 190.26,147.33 190.51,146.96 190.75,146.59 191,146.24 191.25,145.9 191.5,145.58 191.75,145.27 192,144.97 192.25,144.68 192.49,144.4 192.74,144.14 192.99,143.88 193.24,143.63 193.49,143.4 193.73,143.17 193.98,142.95 194.23,142.74 194.48,142.53 194.73,142.34 194.97,142.15 195.22,141.97 195.47,141.8 195.72,141.63 195.96,141.47 196.21,141.31 196.46,141.17 196.71,141.02 196.96,140.89 197.2,140.75 197.45,140.63 197.7,140.51 197.95,140.39 198.19,140.28 198.44,140.17 198.69,140.06 198.93,139.96 199.18,139.87 199.43,139.78 199.68,139.69 199.92,139.6 200.17,139.52 200.42,139.44 200.67,139.36 200.91,139.29 201.16,139.22 201.41,139.16 201.66,139.09 201.9,139.03 202.15,138.97 202.4,138.91 202.65,138.86 202.89,138.8 203.14,138.75 203.39,138.7 203.64,138.66 203.88,138.61 204.13,138.57 204.38,138.53 204.63,138.49 204.87,138.45 205.12,138.41 205.37,138.38 205.62,138.34 205.87,138.31 206.11,138.28 206.36,138.25 206.61,138.22 206.86,138.19 207.11,138.16 207.35,138.14 207.6,138.11 207.85,138.09 208.1,138.07 208.35,138.04 208.6,138.02 208.84,138 209.09,137.98 209.34,137.96 209.59,137.95 209.84,137.93 210.09,137.91 210.34,137.9 210.59,137.88 210.84,137.87 211.09,137.85 211.33,137.84 211.58,137.83 211.83,137.81 212.08,137.8 212.33,137.79 212.58,137.78 212.83,137.77 213.08,137.76 213.33,137.75 213.58,137.74 213.83,137.73 214.08,137.72 214.33,137.71 214.59,137.7 214.84,137.7 215.09,137.69 215.34,137.68 215.59,137.67 215.84,137.67 216.09,137.66 216.34,137.65 216.6,137.65 216.85,137.64 217.1,137.64 217.35,137.63 217.6,137.63 217.86,137.62 218.11,137.62 218.36,137.61 218.61,137.61 218.87,137.61 219.12,137.6 219.37,137.6 219.63,137.59 219.88,137.59 220.13,137.59 220.39,137.58 220.64,137.58 220.9,137.58 221.15,137.58 221.41,137.57 221.66,137.57 221.91,137.57 222.17,137.56 222.42,137.56 222.68,137.56 222.94,137.56 223.19,137.56 223.45,137.55 223.7,137.55 223.96,137.55 224.22,137.55 224.47,137.55 224.73,137.55 224.99,137.54 225.24,137.54 225.5,137.54 225.76,137.54 226.02,137.54 226.28,137.54 226.53,137.54 226.79,137.53 227.05,137.53 227.31,137.53 227.57,137.53 227.83,137.53 228.09,137.53 228.35,137.53 228.61,137.53 228.87,137.53 229.13,137.53 229.39,137.52 229.65,137.52 229.91,137.52 230.17,137.52 230.43,137.52 230.7,137.52 230.96,137.52 231.22,137.52 231.48,137.52 231.75,137.52 232.01,137.52 232.27,137.52 232.54,137.52 232.8,137.52 233.06,137.52 233.33,137.52 233.59,137.52 233.86,137.52 234.12,137.51 234.39,137.51 234.65,137.51 234.92,137.51 235.19,137.51 235.45,137.51 235.72,137.51 235.99,137.51 236.25,137.51 236.52,137.51 236.79,137.51 237.06,137.51 237.33,137.51 237.59,137.51 237.86,137.51 238.13,137.51 238.4,137.51 238.67,137.51 238.94,137.51 239.21,137.51 239.48,137.51 239.75,137.51 240.03,137.51 240.3,137.51 240.57,137.51 240.84,137.51 241.12,137.51 241.39,137.51 241.66,137.51 241.94,137.51 242.21,137.51 242.48,137.51 242.76,137.51 243.03,137.51 243.31,137.51 243.58,137.51 243.86,137.51 244.14,137.51 244.41,137.51 244.69,137.51 244.97,137.51 245.24,137.51 245.52,137.51 245.8,137.51 246.08,137.51 246.36,137.51 246.64,137.51 246.92,137.51 247.2,137.51 247.48,137.51 247.76,137.51 248.04,137.51 248.32,137.51 248.6,137.51 248.89,137.51 249.17,137.51 249.45,137.51 249.74,137.51 250.02,137.51 250.3,137.51 250.59,137.51 250.87,137.51 251.16,137.51 251.44,137.51 251.73,137.51 252.02,137.51 252.3,137.51 252.59,137.51 252.88,137.51 253.17,137.51 253.45,137.51 253.74,137.51 254.03,137.51 254.32,137.51 254.61,137.51 254.9,137.51 255.19,137.51 255.49,137.51 255.78,137.51 256.07,137.51 256.36,137.51 557.24,137.51 557.53,137.51 557.82,137.51 558.11,137.51 558.41,137.51 558.7,137.51 558.99,137.51 559.28,137.51 559.57,137.51 559.86,137.51 560.15,137.51 560.43,137.51 560.72,137.51 561.01,137.51 561.3,137.51 561.58,137.51 561.87,137.51 562.16,137.51 562.44,137.51 562.73,137.51 563.01,137.51 563.3,137.51 563.58,137.51 563.86,137.51 564.15,137.51 564.43,137.51 564.71,137.51 565,137.51 565.28,137.51 565.56,137.51 565.84,137.51 566.12,137.51 566.4,137.51 566.68,137.51 566.96,137.51 567.24,137.51 567.52,137.51 567.8,137.51 568.08,137.51 568.36,137.51 568.63,137.51 568.91,137.51 569.19,137.51 569.46,137.51 569.74,137.51 570.02,137.51 570.29,137.51 570.57,137.51 570.84,137.51 571.12,137.51 571.39,137.51 571.66,137.51 571.94,137.51 572.21,137.51 572.48,137.51 572.76,137.51 573.03,137.51 573.3,137.51 573.57,137.51 573.85,137.51 574.12,137.51 574.39,137.51 574.66,137.51 574.93,137.51 575.2,137.51 575.47,137.51 575.74,137.51 576.01,137.51 576.27,137.51 576.54,137.51 576.81,137.51 577.08,137.51 577.35,137.51 577.61,137.51 577.88,137.51 578.15,137.51 578.41,137.51 578.68,137.51 578.95,137.51 579.21,137.51 579.48,137.51 579.74,137.52 580.01,137.52 580.27,137.52 580.54,137.52 580.8,137.52 581.06,137.52 581.33,137.52 581.59,137.52 581.85,137.52 582.12,137.52 582.38,137.52 582.64,137.52 582.9,137.52 583.17,137.52 583.43,137.52 583.69,137.52 583.95,137.52 584.21,137.52 584.47,137.53 584.73,137.53 584.99,137.53 585.25,137.53 585.51,137.53 585.77,137.53 586.03,137.53 586.29,137.53 586.55,137.53 586.81,137.53 587.07,137.54 587.32,137.54 587.58,137.54 587.84,137.54 588.1,137.54 588.36,137.54 588.61,137.54 588.87,137.55 589.13,137.55 589.38,137.55 589.64,137.55 589.9,137.55 590.15,137.55 590.41,137.56 590.66,137.56 590.92,137.56 591.18,137.56 591.43,137.56 591.69,137.57 591.94,137.57 592.19,137.57 592.45,137.58 592.7,137.58 592.96,137.58 593.21,137.58 593.47,137.59 593.72,137.59 593.97,137.59 594.23,137.6 594.48,137.6 594.73,137.61 594.99,137.61 595.24,137.61 595.49,137.62 595.74,137.62 596,137.63 596.25,137.63 596.5,137.64 596.75,137.64 597,137.65 597.26,137.65 597.51,137.66 597.76,137.67 598.01,137.67 598.26,137.68 598.51,137.69 598.76,137.7 599.01,137.7 599.27,137.71 599.52,137.72 599.77,137.73 600.02,137.74 600.27,137.75 600.52,137.76 600.77,137.77 601.02,137.78 601.27,137.79 601.52,137.8 601.77,137.81 602.02,137.83 602.27,137.84 602.51,137.85 602.76,137.87 603.01,137.88 603.26,137.9 603.51,137.91 603.76,137.93 604.01,137.95 604.26,137.96 604.51,137.98 604.76,138 605,138.02 605.25,138.04 605.5,138.07 605.75,138.09 606,138.11 606.25,138.14 606.49,138.16 606.74,138.19 606.99,138.22 607.24,138.25 607.49,138.28 607.73,138.31 607.98,138.34 608.23,138.38 608.48,138.41 608.73,138.45 608.97,138.49 609.22,138.53 609.47,138.57 609.72,138.61 609.96,138.66 610.21,138.7 610.46,138.75 610.71,138.8 610.95,138.86 611.2,138.91 611.45,138.97 611.7,139.03 611.94,139.09 612.19,139.16 612.44,139.22 612.69,139.29 612.93,139.36 613.18,139.44 613.43,139.52 613.68,139.6 613.92,139.69 614.17,139.78 614.42,139.87 614.67,139.96 614.91,140.06 615.16,140.17 615.41,140.28 615.65,140.39 615.9,140.51 616.15,140.63 616.4,140.75 616.64,140.89 616.89,141.02 617.14,141.17 617.39,141.31 617.64,141.47 617.88,141.63 618.13,141.8 618.38,141.97 618.63,142.15 618.87,142.34 619.12,142.53 619.37,142.74 619.62,142.95 619.87,143.17 620.11,143.4 620.36,143.63 620.61,143.88 620.86,144.14 621.11,144.4 621.35,144.68 621.6,144.97 621.85,145.27 622.1,145.58 622.35,145.9 622.6,146.24 622.85,146.59 623.09,146.96 623.34,147.33 623.59,147.73 623.84,148.13 624.09,148.56 624.34,149 624.59,149.46 624.84,149.93 625.09,150.43 625.34,150.94 625.59,151.47 625.84,152.02 626.09,152.6 626.34,153.19 626.59,153.81 626.84,154.45 627.09,155.12 627.34,155.81 627.59,156.53 627.84,157.27 628.09,158.04 628.34,158.84 628.59,159.67 628.84,160.54 629.09,161.43 629.34,162.35 629.59,163.31 629.85,164.3 630.1,165.33 630.35,166.4 630.6,167.5 630.85,168.65 631.11,169.83 631.36,171.05 631.61,172.32 631.86,173.63 632.12,174.99 632.37,176.39 632.62,177.84 632.88,179.34 633.13,180.89 633.38,182.49 633.64,184.14 633.89,185.85 634.14,187.61 634.4,189.43 634.65,191.3 634.91,193.23 635.16,195.23 635.42,197.28 635.67,199.39 635.93,201.57 636.18,203.81 636.44,206.12 636.69,208.49 636.95,210.93 637.2,213.43 637.46,216.01 637.72,218.65 637.97,221.36 638.23,224.15 638.49,227 638.74,229.92 639,232.92 639.26,235.98 639.52,239.12 639.78,242.33 640.03,245.61 640.29,248.95 640.55,252.37 640.81,255.86 641.07,259.42 641.33,263.04 641.59,266.73 641.85,270.49 642.11,274.31 642.37,278.19 642.63,282.14 642.89,286.14 643.15,290.2 643.41,294.32 643.67,298.48 643.93,302.7 644.19,306.97 644.46,311.28 644.72,315.64 644.98,320.03 645.24,324.46 645.51,328.93 645.77,333.42 646.03,337.95 646.3,342.49 646.56,347.06 646.83,351.64 647.09,356.23 647.35,360.84 647.62,365.45 647.89,370.06 648.15,374.67 648.42,379.27 648.68,383.87 648.95,388.45 649.22,393.01 649.48,397.56 649.75,402.08 650.02,406.58 650.29,411.04 650.55,415.47 650.82,419.87 651.09,424.22 651.36,428.53 651.63,432.8 651.9,437.02 652.17,441.19 652.44,445.3 652.71,449.36 652.98,453.37 653.25,457.31 653.52,461.2 653.79,465.02 654.06,468.77 654.34,472.46 654.61,476.09 654.88,479.64 655.16,483.13 655.43,486.55 655.7,489.9 655.98,493.18 656.25,496.39 656.53,499.52 656.8,502.59 657.08,505.58 657.35,508.51 657.63,511.36 657.91,514.14 658.18,516.85 658.46,519.5 658.74,522.07 659.01,524.58 659.29,527.02 659.57,529.39 659.85,531.69 660.13,533.94 660.41,536.11 660.69,538.23 660.97,540.28 661.25,542.27 661.53,544.2 661.81,546.08 662.09,547.9 662.38,549.66 662.66,551.36 662.94,553.01 663.23,554.61 663.51,556.16 663.79,557.66 664.08,559.11 664.36,560.52 664.65,561.87 664.93,563.18 665.22,564.45 665.51,565.68 665.79,566.86 666.08,568 666.37,569.11 666.65,570.17 666.94,571.2 667.23,572.19 667.52,573.15 667.81,574.08 668.1,574.97 668.39,575.83 668.68,576.66 668.97,577.46 669.26,578.23 669.56,578.98 669.85,579.69 670.14,580.39 670.44,581.05 670.73,581.69 671.02,582.31 671.32,582.91 671.61,583.48 671.91,584.03 672.2,584.57 672.5,585.08 672.8,585.57 673.09,586.05 673.39,586.51 673.69,586.95 673.99,587.37 674.29,587.78 674.59,588.17 674.89,588.55 675.19,588.91 675.49,589.26 675.79,589.6 676.09,589.92 676.39,590.24 676.7,590.54 677,590.82 677.3,591.1 677.61,591.37 677.91,591.63 678.22,591.87 678.52,592.11 678.83,592.34 679.13,592.56 679.44,592.77 679.75,592.97 680.06,593.17 680.37,593.36 680.67,593.54 680.98,593.71 681.29,593.88 681.6,594.04 681.92,594.19 682.23,594.34 682.54,594.48 682.85,594.62 683.16,594.75 683.48,594.88 683.79,595 684.11,595.12 684.42,595.23 684.74,595.34 685.05,595.44 685.37,595.54 685.69,595.64 686,595.73 686.32,595.82 686.64,595.9 686.96,595.99 687.28,596.06 687.6,596.14 687.92,596.21 688.24,596.28 688.56,596.35 688.89,596.41 689.21,596.48 689.53,596.54 689.86,596.59 690.18,596.65 690.51,596.7 690.83,596.75 691.16,596.8 691.48,596.85 691.81,596.89 692.14,596.94 692.47,596.98 692.8,597.02 693.13,597.06 693.46,597.09 693.79,597.13 694.12,597.16 694.45,597.2 694.78,597.23 695.12,597.26 695.45,597.29 695.78,597.32 696.12,597.34 696.46,597.37 696.79,597.39 697.13,597.42 697.46,597.44 697.8,597.46 698.14,597.48 698.48,597.5 698.82,597.52 699.16,597.54 699.5,597.56 699.84,597.58 700.18,597.59 700.53,597.61 700.87,597.62 701.21,597.64 701.56,597.65 701.9,597.67 702.25,597.68 702.6,597.69 702.94,597.7 703.29,597.72 703.64,597.73 703.99,597.74 704.34,597.75 704.69,597.76 705.04,597.77 705.39,597.78 705.74,597.79 706.09,597.79 706.45,597.8 706.8,597.81 707.16,597.82 707.51,597.82 707.87,597.83 708.22,597.84 708.58,597.84 708.94,597.85 709.3,597.86 709.66,597.86 710.02,597.87 710.38,597.87 710.74,597.88 711.1,597.88 711.46,597.89 711.83,597.89 712.19,597.9 712.56,597.9 712.92,597.9 713.29,597.91 713.65,597.91 714.02,597.91 714.39,597.92 714.76,597.92" stroke="#f00" stroke-width="1.6"/>
<polyline points="100.28,598 100.75,598 101.22,598 101.69,598 102.16,598 102.62,598 103.09,598 103.55,598 104.01,598 104.47,598 104.93,598 105.39,598 105.85,598 106.3,598 106.75,598 107.21,598 107.66,598 108.11,598 108.55,598 109,598 109.44,598 109.89,598 110.33,598 110.77,598 111.21,598 111.65,598 112.09,598 112.52,598 112.96,598 113.39,598 113.82,598 114.25,598 114.68,598 115.11,598 115.54,598 115.96,598 116.39,598 116.81,598 117.23,598 117.65,598 118.07,598 118.49,598 118.9,598 119.32,597.99 119.73,597.99 120.14,597.99 120.56,597.99 120.97,597.99 121.37,597.99 121.78,597.99 122.19,597.99 122.59,597.99 123,597.99 123.4,597.99 123.8,597.99 124.2,597.99 124.6,597.99 124.99,597.99 125.39,597.99 125.79,597.99 126.18,597.99 126.57,597.99 126.96,597.99 127.35,597.99 127.74,597.99 128.13,597.99 128.52,597.99 128.9,597.99 129.28,597.99 129.67,597.99 130.05,597.98 130.43,597.98 130.81,597.98 131.19,597.98 131.56,597.98 131.94,597.98 132.31,597.98 132.69,597.98 133.06,597.98 133.43,597.98 133.8,597.98 134.17,597.98 134.54,597.98 134.9,597.97 135.27,597.97 135.63,597.97 135.99,597.97 136.36,597.97 136.72,597.97 137.08,597.97 137.43,597.97 137.79,597.97 138.15,597.96 138.5,597.96 138.86,597.96 139.21,597.96 139.56,597.96 139.91,597.96 140.26,597.95 140.61,597.95 140.96,597.95 141.3,597.95 141.65,597.95 141.99,597.94 142.33,597.94 142.68,597.94 143.02,597.94 143.36,597.93 143.69,597.93 144.03,597.93 144.37,597.93 144.7,597.92 145.04,597.92 145.37,597.92 145.7,597.91 146.03,597.91 146.36,597.91 146.69,597.9 147.02,597.9 147.35,597.89 147.67,597.89 148,597.88 148.32,597.88 148.64,597.87 148.97,597.87 149.29,597.86 149.61,597.86 149.92,597.85 150.24,597.85 150.56,597.84 150.87,597.83 151.19,597.83 151.5,597.82 151.82,597.81 152.13,597.81 152.44,597.8 152.75,597.79 153.06,597.78 153.36,597.77 153.67,597.76 153.98,597.75 154.28,597.74 154.58,597.73 154.89,597.72 155.19,597.71 155.49,597.7 155.79,597.69 156.09,597.67 156.39,597.66 156.68,597.64 156.98,597.63 157.28,597.62 157.57,597.6 157.86,597.58 158.16,597.57 158.45,597.55 158.74,597.53 159.03,597.51 159.32,597.49 159.6,597.47 159.89,597.45 160.18,597.43 160.46,597.4 160.75,597.38 161.03,597.35 161.31,597.33 161.59,597.3 161.88,597.27 162.16,597.24 162.43,597.21 162.71,597.18 162.99,597.14 163.27,597.11 163.54,597.07 163.82,597.03 164.09,597 164.36,596.95 164.63,596.91 164.91,596.87 165.18,596.82 165.44,596.77 165.71,596.72 165.98,596.67 166.25,596.62 166.51,596.56 166.78,596.5 167.04,596.44 167.31,596.38 167.57,596.31 167.83,596.24 168.09,596.17 168.35,596.1 168.61,596.02 168.87,595.94 169.13,595.85 169.39,595.77 169.64,595.68 169.9,595.58 170.15,595.48 170.41,595.38 170.66,595.27 170.91,595.16 171.16,595.05 171.42,594.93 171.67,594.8 171.91,594.67 172.16,594.54 172.41,594.4 172.66,594.25 172.9,594.1 173.15,593.94 173.39,593.78 173.64,593.61 173.88,593.43 174.12,593.24 174.37,593.05 174.61,592.85 174.85,592.64 175.09,592.42 175.33,592.2 175.56,591.96 175.8,591.72 176.04,591.47 176.27,591.2 176.51,590.93 176.74,590.64 176.98,590.35 177.21,590.04 177.44,589.72 177.68,589.39 177.91,589.04 178.14,588.68 178.37,588.31 178.6,587.92 178.82,587.51 179.05,587.09 179.28,586.66 179.51,586.2 179.73,585.73 179.96,585.24 180.18,584.74 180.41,584.21 180.63,583.66 180.85,583.09 181.07,582.5 181.29,581.88 181.51,581.25 181.73,580.58 181.95,579.9 182.17,579.18 182.39,578.44 182.61,577.67 182.82,576.87 183.04,576.05 183.26,575.19 183.47,574.3 183.69,573.37 183.9,572.42 184.11,571.42 184.33,570.39 184.54,569.32 184.75,568.22 184.96,567.07 185.17,565.88 185.38,564.65 185.59,563.38 185.8,562.06 186.01,560.69 186.21,559.28 186.42,557.82 186.63,556.31 186.83,554.74 187.04,553.12 187.24,551.45 187.45,549.72 187.65,547.93 187.85,546.08 188.05,544.18 188.26,542.21 188.46,540.18 188.66,538.08 188.86,535.92 189.06,533.69 189.26,531.39 189.46,529.02 189.65,526.58 189.85,524.06 190.05,521.48 190.25,518.82 190.44,516.08 190.64,513.26 190.83,510.37 191.03,507.4 191.22,504.35 191.42,501.22 191.61,498.01 191.8,494.72 191.99,491.34 192.19,487.89 192.38,484.35 192.57,480.73 192.76,477.03 192.95,473.24 193.14,469.38 193.33,465.43 193.52,461.41 193.7,457.3 193.89,453.12 194.08,448.86 194.27,444.53 194.45,440.12 194.64,435.64 194.82,431.08 195.01,426.46 195.19,421.78 195.38,417.03 195.56,412.22 195.75,407.35 195.93,402.42 196.11,397.45 196.29,392.42 196.48,387.35 196.66,382.24 196.84,377.08 197.02,371.9 197.2,366.68 197.38,361.43 197.56,356.16 197.74,350.87 197.92,345.57 198.09,340.26 198.27,334.94 198.45,329.62 198.63,324.3 198.8,318.98 198.98,313.68 199.16,308.39 199.33,303.12 199.51,297.88 199.68,292.66 199.86,287.47 200.03,282.32 200.21,277.21 200.38,272.13 200.56,267.11 200.73,262.13 200.9,257.21 201.07,252.34 201.25,247.53 201.42,242.78 201.59,238.09 201.76,233.47 201.93,228.92 202.1,224.44 202.27,220.03 202.44,215.69 202.61,211.43 202.78,207.25 202.95,203.15 203.12,199.12 203.29,195.18 203.46,191.31 203.63,187.53 203.8,183.83 203.96,180.21 204.13,176.67 204.3,173.21 204.46,169.84 204.63,166.55 204.8,163.33 204.96,160.2 205.13,157.15 205.3,154.18 205.46,151.29 205.63,148.48 205.79,145.74 205.96,143.08 206.12,140.49 206.29,137.98 206.45,135.54 206.61,133.17 206.78,130.87 206.94,128.64 207.1,126.48 207.27,124.38 207.43,122.35 207.59,120.38 207.76,118.47 207.92,116.62 208.08,114.84 208.24,113.11 208.4,111.43 208.57,109.82 208.73,108.25 208.89,106.74 209.05,105.27 209.21,103.86 209.37,102.49 209.53,101.18 209.69,99.9 209.85,98.67 210.01,97.48 210.17,96.34 210.33,95.23 210.49,94.16 210.65,93.13 210.81,92.14 210.97,91.18 211.13,90.26 211.29,89.37 211.45,88.51 211.61,87.68 211.77,86.88 211.93,86.11 212.08,85.37 212.24,84.66 212.4,83.97 212.56,83.31 212.72,82.67 212.88,82.06 213.03,81.47 213.19,80.9 213.35,80.35 213.51,79.82 213.67,79.31 213.82,78.82 213.98,78.35 214.14,77.9 214.3,77.46 214.45,77.04 214.61,76.64 214.77,76.25 214.93,75.88 215.08,75.52 215.24,75.17 215.4,74.84 215.55,74.52 215.71,74.21 215.87,73.91 216.03,73.63 216.18,73.35 216.34,73.09 216.5,72.84 216.65,72.59 216.81,72.36 216.97,72.13 217.13,71.91 217.28,71.71 217.44,71.51 217.6,71.31 217.75,71.13 217.91,70.95 218.07,70.78 218.22,70.61 218.38,70.46 218.54,70.3 218.7,70.16 218.85,70.02 219.01,69.88 219.17,69.75 219.32,69.63 219.48,69.51 219.64,69.39 219.8,69.28 219.95,69.17 220.11,69.07 220.27,68.97 220.43,68.88 220.59,68.79 220.74,68.7 220.9,68.62 221.06,68.54 221.22,68.46 221.38,68.38 221.53,68.31 221.69,68.24 221.85,68.18 222.01,68.11 222.17,68.05 222.33,67.99 222.48,67.94 222.64,67.88 222.8,67.83 222.96,67.78 223.12,67.73 223.28,67.69 223.44,67.64 223.6,67.6 223.76,67.56 223.92,67.52 224.08,67.48 224.24,67.45 224.4,67.41 224.56,67.38 224.72,67.35 224.88,67.31 225.04,67.28 225.2,67.26 225.37,67.23 225.53,67.2 225.69,67.18 225.85,67.15 226.01,67.13 226.17,67.11 226.34,67.09 226.5,67.06 226.66,67.04 226.82,67.03 226.99,67.01 227.15,66.99 227.31,66.97 227.48,66.96 227.64,66.94 227.81,66.92 227.97,66.91 228.13,66.9 228.3,66.88 228.46,66.87 228.63,66.86 228.8,66.85 228.96,66.83 229.13,66.82 229.29,66.81 229.46,66.8 229.63,66.79 229.79,66.78 229.96,66.77 230.13,66.77 230.29,66.76 230.46,66.75 230.63,66.74 230.8,66.73 230.97,66.73 231.14,66.72 231.31,66.71 231.48,66.71 231.65,66.7 231.82,66.7 231.99,66.69 232.16,66.69 232.33,66.68 232.5,66.68 232.67,66.67 232.84,66.67 233.01,66.66 233.19,66.66 233.36,66.65 233.53,66.65 233.71,66.65 233.88,66.64 234.05,66.64 234.23,66.64 234.4,66.63 234.58,66.63 234.75,66.63 234.93,66.62 235.11,66.62 235.28,66.62 235.46,66.62 235.64,66.61 235.81,66.61 235.99,66.61 236.17,66.61 236.35,66.61 236.53,66.6 236.71,66.6 236.89,66.6 237.07,66.6 237.25,66.6 237.43,66.59 237.61,66.59 237.79,66.59 237.97,66.59 238.16,66.59 238.34,66.59 238.52,66.59 238.71,66.58 238.89,66.58 239.08,66.58 239.26,66.58 239.45,66.58 239.63,66.58 239.82,66.58 240.01,66.58 240.19,66.58 240.38,66.58 240.57,66.58 240.76,66.57 240.95,66.57 241.13,66.57 241.32,66.57 241.52,66.57 241.71,66.57 241.9,66.57 242.09,66.57 242.28,66.57 242.47,66.57 242.67,66.57 242.86,66.57 243.05,66.57 243.25,66.57 243.44,66.57 243.64,66.57 243.84,66.57 244.03,66.56 244.23,66.56 244.43,66.56 244.62,66.56 244.82,66.56 245.02,66.56 245.22,66.56 245.42,66.56 245.62,66.56 245.82,66.56 246.03,66.56 246.23,66.56 246.43,66.56 246.63,66.56 246.84,66.56 247.04,66.56 247.25,66.56 247.45,66.56 247.66,66.56 247.87,66.56 248.07,66.56 248.28,66.56 248.49,66.56 248.7,66.56 248.91,66.56 249.12,66.56 249.33,66.56 249.54,66.56 249.75,66.56 249.96,66.56 250.18,66.56 250.39,66.56 250.6,66.56 250.82,66.56 251.03,66.56 251.25,66.56 251.47,66.56 251.68,66.56 251.9,66.56 252.12,66.56 252.34,66.56 252.56,66.56 252.78,66.56 253,66.56 253.22,66.56 253.45,66.56 253.67,66.56 253.89,66.56 254.12,66.56 254.34,66.56 254.57,66.56 254.79,66.56 255.02,66.56 255.25,66.56 255.48,66.56 255.7,66.56 255.93,66.56 256.16,66.56 256.4,66.56 256.63,66.56 256.86,66.56 257.09,66.56 257.33,66.56 257.56,66.56 257.8,66.56 258.03,66.56 258.27,66.56 258.5,66.56 258.74,66.56 258.98,66.56 259.22,66.56 259.46,66.56 259.7,66.56 259.94,66.56 260.19,66.56 260.43,66.56 260.67,66.56 260.92,66.56 552.68,66.56 552.93,66.56 553.17,66.56 553.41,66.56 553.66,66.56 553.9,66.56 554.14,66.56 554.38,66.56 554.62,66.56 554.86,66.56 555.1,66.56 555.33,66.56 555.57,66.56 555.8,66.56 556.04,66.56 556.27,66.56 556.51,66.56 556.74,66.56 556.97,66.56 557.2,66.56 557.44,66.56 557.67,66.56 557.9,66.56 558.12,66.56 558.35,66.56 558.58,66.56 558.81,66.56 559.03,66.56 559.26,66.56 559.48,66.56 559.71,66.56 559.93,66.56 560.15,66.56 560.38,66.56 560.6,66.56 560.82,66.56 561.04,66.56 561.26,66.56 561.48,66.56 561.7,66.56 561.92,66.56 562.13,66.56 562.35,66.56 562.57,66.56 562.78,66.56 563,66.56 563.21,66.56 563.42,66.56 563.64,66.56 563.85,66.56 564.06,66.56 564.27,66.56 564.48,66.56 564.69,66.56 564.9,66.56 565.11,66.56 565.32,66.56 565.53,66.56 565.73,66.56 565.94,66.56 566.15,66.56 566.35,66.56 566.56,66.56 566.76,66.56 566.97,66.56 567.17,66.56 567.37,66.56 567.57,66.56 567.78,66.56 567.98,66.56 568.18,66.56 568.38,66.56 568.58,66.56 568.78,66.56 568.98,66.56 569.17,66.56 569.37,66.56 569.57,66.56 569.76,66.57 569.96,66.57 570.16,66.57 570.35,66.57 570.55,66.57 570.74,66.57 570.93,66.57 571.13,66.57 571.32,66.57 571.51,66.57 571.7,66.57 571.89,66.57 572.08,66.57 572.28,66.57 572.47,66.57 572.65,66.57 572.84,66.57 573.03,66.58 573.22,66.58 573.41,66.58 573.59,66.58 573.78,66.58 573.97,66.58 574.15,66.58 574.34,66.58 574.52,66.58 574.71,66.58 574.89,66.58 575.08,66.59 575.26,66.59 575.44,66.59 575.63,66.59 575.81,66.59 575.99,66.59 576.17,66.59 576.35,66.6 576.53,66.6 576.71,66.6 576.89,66.6 577.07,66.6 577.25,66.61 577.43,66.61 577.61,66.61 577.79,66.61 577.96,66.61 578.14,66.62 578.32,66.62 578.49,66.62 578.67,66.62 578.85,66.63 579.02,66.63 579.2,66.63 579.37,66.64 579.55,66.64 579.72,66.64 579.89,66.65 580.07,66.65 580.24,66.65 580.41,66.66 580.59,66.66 580.76,66.67 580.93,66.67 581.1,66.68 581.27,66.68 581.44,66.69 581.61,66.69 581.78,66.7 581.95,66.7 582.12,66.71 582.29,66.71 582.46,66.72 582.63,66.73 582.8,66.73 582.97,66.74 583.14,66.75 583.31,66.76 583.47,66.77 583.64,66.77 583.81,66.78 583.97,66.79 584.14,66.8 584.31,66.81 584.47,66.82 584.64,66.83 584.8,66.85 584.97,66.86 585.14,66.87 585.3,66.88 585.47,66.9 585.63,66.91 585.79,66.92 585.96,66.94 586.12,66.96 586.29,66.97 586.45,66.99 586.61,67.01 586.78,67.03 586.94,67.04 587.1,67.06 587.26,67.09 587.43,67.11 587.59,67.13 587.75,67.15 587.91,67.18 588.07,67.2 588.23,67.23 588.4,67.26 588.56,67.28 588.72,67.31 588.88,67.35 589.04,67.38 589.2,67.41 589.36,67.45 589.52,67.48 589.68,67.52 589.84,67.56 590,67.6 590.16,67.64 590.32,67.69 590.48,67.73 590.64,67.78 590.8,67.83 590.96,67.88 591.12,67.94 591.27,67.99 591.43,68.05 591.59,68.11 591.75,68.18 591.91,68.24 592.07,68.31 592.22,68.38 592.38,68.46 592.54,68.54 592.7,68.62 592.86,68.7 593.01,68.79 593.17,68.88 593.33,68.97 593.49,69.07 593.65,69.17 593.8,69.28 593.96,69.39 594.12,69.51 594.28,69.63 594.43,69.75 594.59,69.88 594.75,70.02 594.9,70.16 595.06,70.3 595.22,70.46 595.38,70.61 595.53,70.78 595.69,70.95 595.85,71.13 596,71.31 596.16,71.51 596.32,71.71 596.47,71.91 596.63,72.13 596.79,72.36 596.95,72.59 597.1,72.84 597.26,73.09 597.42,73.35 597.57,73.63 597.73,73.91 597.89,74.21 598.05,74.52 598.2,74.84 598.36,75.17 598.52,75.52 598.67,75.88 598.83,76.25 598.99,76.64 599.15,77.04 599.3,77.46 599.46,77.9 599.62,78.35 599.78,78.82 599.93,79.31 600.09,79.82 600.25,80.35 600.41,80.9 600.57,81.47 600.72,82.06 600.88,82.67 601.04,83.31 601.2,83.97 601.36,84.66 601.52,85.37 601.67,86.11 601.83,86.88 601.99,87.68 602.15,88.51 602.31,89.37 602.47,90.26 602.63,91.18 602.79,92.14 602.95,93.13 603.11,94.16 603.27,95.23 603.43,96.34 603.59,97.48 603.75,98.67 603.91,99.9 604.07,101.18 604.23,102.49 604.39,103.86 604.55,105.27 604.71,106.74 604.87,108.25 605.03,109.82 605.2,111.43 605.36,113.11 605.52,114.84 605.68,116.62 605.84,118.47 606.01,120.38 606.17,122.35 606.33,124.38 606.5,126.48 606.66,128.64 606.82,130.87 606.99,133.17 607.15,135.54 607.31,137.98 607.48,140.49 607.64,143.08 607.81,145.74 607.97,148.48 608.14,151.29 608.3,154.18 608.47,157.15 608.64,160.2 608.8,163.33 608.97,166.55 609.14,169.84 609.3,173.21 609.47,176.67 609.64,180.21 609.8,183.83 609.97,187.53 610.14,191.31 610.31,195.18 610.48,199.12 610.65,203.15 610.82,207.25 610.99,211.43 611.16,215.69 611.33,220.03 611.5,224.44 611.67,228.92 611.84,233.47 612.01,238.09 612.18,242.78 612.35,247.53 612.53,252.34 612.7,257.21 612.87,262.13 613.04,267.11 613.22,272.13 613.39,277.21 613.57,282.32 613.74,287.47 613.92,292.66 614.09,297.88 614.27,303.12 614.44,308.39 614.62,313.68 614.8,318.98 614.97,324.3 615.15,329.62 615.33,334.94 615.51,340.26 615.68,345.57 615.86,350.87 616.04,356.16 616.22,361.43 616.4,366.68 616.58,371.9 616.76,377.08 616.94,382.24 617.12,387.35 617.31,392.42 617.49,397.45 617.67,402.42 617.85,407.35 618.04,412.22 618.22,417.03 618.41,421.78 618.59,426.46 618.78,431.08 618.96,435.64 619.15,440.12 619.33,444.53 619.52,448.86 619.71,453.12 619.9,457.3 620.08,461.41 620.27,465.43 620.46,469.38 620.65,473.24 620.84,477.03 621.03,480.73 621.22,484.35 621.41,487.89 621.61,491.34 621.8,494.72 621.99,498.01 622.18,501.22 622.38,504.35 622.57,507.4 622.77,510.37 622.96,513.26 623.16,516.08 623.35,518.82 623.55,521.48 623.75,524.06 623.95,526.58 624.14,529.02 624.34,531.39 624.54,533.69 624.74,535.92 624.94,538.08 625.14,540.18 625.34,542.21 625.55,544.18 625.75,546.08 625.95,547.93 626.15,549.72 626.36,551.45 626.56,553.12 626.77,554.74 626.97,556.31 627.18,557.82 627.39,559.28 627.59,560.69 627.8,562.06 628.01,563.38 628.22,564.65 628.43,565.88 628.64,567.07 628.85,568.22 629.06,569.32 629.27,570.39 629.49,571.42 629.7,572.42 629.91,573.37 630.13,574.3 630.34,575.19 630.56,576.05 630.78,576.87 630.99,577.67 631.21,578.44 631.43,579.18 631.65,579.9 631.87,580.58 632.09,581.25 632.31,581.88 632.53,582.5 632.75,583.09 632.97,583.66 633.19,584.21 633.42,584.74 633.64,585.24 633.87,585.73 634.09,586.2 634.32,586.66 634.55,587.09 634.78,587.51 635,587.92 635.23,588.31 635.46,588.68 635.69,589.04 635.92,589.39 636.16,589.72 636.39,590.04 636.62,590.35 636.86,590.64 637.09,590.93 637.33,591.2 637.56,591.47 637.8,591.72 638.04,591.96 638.27,592.2 638.51,592.42 638.75,592.64 638.99,592.85 639.23,593.05 639.48,593.24 639.72,593.43 639.96,593.61 640.21,593.78 640.45,593.94 640.7,594.1 640.94,594.25 641.19,594.4 641.44,594.54 641.69,594.67 641.93,594.8 642.18,594.93 642.44,595.05 642.69,595.16 642.94,595.27 643.19,595.38 643.45,595.48 643.7,595.58 643.96,595.68 644.21,595.77 644.47,595.85 644.73,595.94 644.99,596.02 645.25,596.1 645.51,596.17 645.77,596.24 646.03,596.31 646.29,596.38 646.56,596.44 646.82,596.5 647.09,596.56 647.35,596.62 647.62,596.67 647.89,596.72 648.16,596.77 648.42,596.82 648.69,596.87 648.97,596.91 649.24,596.95 649.51,597 649.78,597.03 650.06,597.07 650.33,597.11 650.61,597.14 650.89,597.18 651.17,597.21 651.44,597.24 651.72,597.27 652.01,597.3 652.29,597.33 652.57,597.35 652.85,597.38 653.14,597.4 653.42,597.43 653.71,597.45 654,597.47 654.28,597.49 654.57,597.51 654.86,597.53 655.15,597.55 655.44,597.57 655.74,597.58 656.03,597.6 656.32,597.62 656.62,597.63 656.92,597.64 657.21,597.66 657.51,597.67 657.81,597.69 658.11,597.7 658.41,597.71 658.71,597.72 659.02,597.73 659.32,597.74 659.62,597.75 659.93,597.76 660.24,597.77 660.54,597.78 660.85,597.79 661.16,597.8 661.47,597.81 661.78,597.81 662.1,597.82 662.41,597.83 662.73,597.83 663.04,597.84 663.36,597.85 663.68,597.85 663.99,597.86 664.31,597.86 664.63,597.87 664.96,597.87 665.28,597.88 665.6,597.88 665.93,597.89 666.25,597.89 666.58,597.9 666.91,597.9 667.24,597.91 667.57,597.91 667.9,597.91 668.23,597.92 668.56,597.92 668.9,597.92 669.23,597.93 669.57,597.93 669.91,597.93 670.24,597.93 670.58,597.94 670.92,597.94 671.27,597.94 671.61,597.94 671.95,597.95 672.3,597.95 672.64,597.95 672.99,597.95 673.34,597.95 673.69,597.96 674.04,597.96 674.39,597.96 674.74,597.96 675.1,597.96 675.45,597.96 675.81,597.97 676.17,597.97 676.52,597.97 676.88,597.97 677.24,597.97 677.61,597.97 677.97,597.97 678.33,597.97 678.7,597.97 679.06,597.98 679.43,597.98 679.8,597.98 680.17,597.98 680.54,597.98 680.91,597.98 681.29,597.98 681.66,597.98 682.04,597.98 682.41,597.98 682.79,597.98 683.17,597.98 683.55,597.98 683.93,597.99 684.32,597.99 684.7,597.99 685.08,597.99 685.47,597.99 685.86,597.99 686.25,597.99 686.64,597.99 687.03,597.99 687.42,597.99 687.81,597.99 688.21,597.99 688.61,597.99 689,597.99 689.4,597.99 689.8,597.99 690.2,597.99 690.6,597.99 691.01,597.99 691.41,597.99 691.82,597.99 692.23,597.99 692.63,597.99 693.04,597.99 693.46,597.99 693.87,597.99 694.28,597.99 694.7,598 695.11,598 695.53,598 695.95,598 696.37,598 696.79,598 697.21,598 697.64,598 698.06,598 698.49,598 698.92,598 699.35,598 699.78,598 700.21,598 700.64,598 701.08,598 701.51,598 701.95,598 702.39,598 702.83,598 703.27,598 703.71,598 704.16,598 704.6,598 705.05,598 705.49,598 705.94,598 706.39,598 706.85,598 707.3,598 707.75,598 708.21,598 708.67,598 709.13,598 709.59,598 710.05,598 710.51,598 710.98,598 711.44,598 711.91,598 712.38,598 712.85,598 713.32,598 713.79,598 714.27,598 714.74,598" stroke="#f00" stroke-width="1.6"/>
</g>
<path d="M146.5,598.0v-7.5M146.5,2.5v7.5M183.7,598.0v-15M183.7,2.5v15M220.9,598.0v-7.5M220.9,2.5v7.5M258.1,598.0v-15M258.1,2.5v15M295.3,598.0v-7.5M295.3,2.5v7.5M332.5,598.0v-15M332.5,2.5v15M369.7,598.0v-7.5M369.7,2.5v7.5M406.9,598.0v-15M406.9,2.5v15M444.1,598.0v-7.5M444.1,2.5v7.5M481.3,598.0v-15M481.3,2.5v15M518.5,598.0v-7.5M518.5,2.5v7.5M555.7,598.0v-15M555.7,2.5v15M592.9,598.0v-7.5M592.9,2.5v7.5M630.1,598.0v-15M630.1,2.5v15M667.3,598.0v-7.5M667.3,2.5v7.5M109.3,555.46h7.5M704.5,555.46h-7.5M109.3,512.93h15M704.5,512.93h-15M109.3,470.39h7.5M704.5,470.39h-7.5M109.3,427.86h15M704.5,427.86h-15M109.3,385.32h7.5M704.5,385.32h-7.5M109.3,342.78h15M704.5,342.78h-15M109.3,300.25h7.5M704.5,300.25h-7.5M109.3,257.71h15M704.5,257.71h-15M109.3,215.18h7.5M704.5,215.18h-7.5M109.3,172.64h15M704.5,172.64h-15M109.3,130.1h7.5M704.5,130.1h-7.5M109.3,87.57h15M704.5,87.57h-15M109.3,45.03h7.5M704.5,45.03h-7.5" stroke="#000" stroke-width="2" fill="none"/>
<rect x="109.3" y="2.5" width="595.2" height="595.5" fill="none" stroke="#000" stroke-width="2"/>
<text x="184.3" y="626.5" font-family="&quot;Liberation Serif&quot;, serif" font-size="32" text-anchor="middle">-60</text>
<text x="258.7" y="626.5" font-family="&quot;Liberation Serif&quot;, serif" font-size="32" text-anchor="middle">-40</text>
<text x="333.1" y="626.5" font-family="&quot;Liberation Serif&quot;, serif" font-size="32" text-anchor="middle">-20</text>
<text x="407.5" y="626.5" font-family="&quot;Liberation Serif&quot;, serif" font-size="32" text-anchor="middle">0</text>
<text x="481.9" y="626.5" font-family="&quot;Liberation Serif&quot;, serif" font-size="32" text-anchor="middle">20</text>
<text x="556.3" y="626.5" font-family="&quot;Liberation Serif&quot;, serif" font-size="32" text-anchor="middle">40</text>
<text x="630.7" y="626.5" font-family="&quot;Liberation Serif&quot;, serif" font-size="32" text-anchor="middle">60</text>
<text x="103.4" y="608.9" font-family="&quot;Liberation Serif&quot;, serif" font-size="32" text-anchor="end">0</text>
<text x="103.4" y="523.83" font-family="&quot;Liberation Serif&quot;, serif" font-size="32" text-anchor="end">0.2</text>
<text x="103.4" y="438.76" font-family="&quot;Liberation Serif&quot;, serif" font-size="32" text-anchor="end">0.4</text>
<text x="103.4" y="353.68" font-family="&quot;Liberation Serif&quot;, serif" font-size="32" text-anchor="end">0.6</text>
<text x="103.4" y="268.61" font-family="&quot;Liberation Serif&quot;, serif" font-size="32" text-anchor="end">0.8</text>
<text x="103.4" y="183.54" font-family="&quot;Liberation Serif&quot;, serif" font-size="32" text-anchor="end">1</text>
<text x="103.4" y="98.47" font-family="&quot;Liberation Serif&quot;, serif" font-size="32" text-anchor="end">1.2</text>
<text x="364" y="674.5" font-family="&quot;Liberation Sans&quot;, sans-serif" font-style="italic" font-size="42">z (Å)</text>
<text transform="translate(47.5,380.3) rotate(-90)" font-family="&quot;Liberation Serif&quot;, serif" font-size="42"><tspan font-size="47">ρ</tspan> (g/cm<tspan dy="-25.3" font-size="30">3</tspan><tspan dy="25.3">)</tspan></text>
<text x="666.6" y="45.8" font-family="&quot;Liberation Sans&quot;, sans-serif" font-style="italic" font-size="42">a</text>
<text x="345" y="53.5" font-family="&quot;Liberation Sans&quot;, sans-serif" font-style="italic" font-size="31">373.15K</text>
<text x="347" y="126.5" font-family="&quot;Liberation Sans&quot;, sans-serif" font-style="italic" font-size="31">573.15K</text>
<rect x="258.0" y="188.4" width="335" height="126.6" fill="#fff" stroke="none"/>
<path d="M288.45,315.0v-4M288.45,188.4v4M318.91,315.0v-4M318.91,188.4v4M349.36,315.0v-7.5M349.36,188.4v7.5M379.82,315.0v-4M379.82,188.4v4M410.27,315.0v-4M410.27,188.4v4M440.73,315.0v-4M440.73,188.4v4M471.18,315.0v-7.5M471.18,188.4v7.5M501.64,315.0v-4M501.64,188.4v4M532.09,315.0v-4M532.09,188.4v4M562.55,315.0v-4M562.55,188.4v4M258.0,299.18h4M593.0,299.18h-4M258.0,283.35h7.5M593.0,283.35h-7.5M258.0,267.52h4M593.0,267.52h-4M258.0,251.7h4M593.0,251.7h-4M258.0,235.88h4M593.0,235.88h-4M258.0,220.05h7.5M593.0,220.05h-7.5M258.0,204.22h4M593.0,204.22h-4" stroke="#000" stroke-width="1.8" fill="none"/>
<rect x="258.0" y="188.4" width="335" height="126.6" fill="none" stroke="#000" stroke-width="2"/>
<polyline points="265.61,299.24 267.14,296.83 268.67,294.49 270.2,292.21 271.74,289.99 273.27,287.82 274.8,285.72 276.33,283.67 277.86,281.67 279.39,279.73 280.92,277.84 282.45,276 283.98,274.2 285.51,272.46 287.04,270.76 288.57,269.11 290.1,267.5 291.63,265.93 293.16,264.4 294.69,262.92 296.22,261.47 297.75,260.06 299.28,258.69 300.81,257.36 302.34,256.06 303.87,254.79 305.4,253.56 306.93,252.36 308.46,251.2 309.99,250.06 311.53,248.95 313.06,247.88 314.59,246.83 316.12,245.81 317.65,244.82 319.18,243.85 320.71,242.91 322.24,241.99 323.77,241.1 325.3,240.23 326.83,239.39 328.36,238.56 329.89,237.76 331.42,236.98 332.95,236.22 334.48,235.48 336.01,234.76 337.54,234.06 339.07,233.38 340.6,232.71 342.13,232.07 343.66,231.44 345.19,230.83 346.72,230.23 348.25,229.65 349.78,229.08 351.31,228.53 352.85,228 354.38,227.48 355.91,226.97 357.44,226.47 358.97,225.99 360.5,225.52 362.03,225.07 363.56,224.62 365.09,224.19 366.62,223.77 368.15,223.36 369.68,222.96 371.21,222.57 372.74,222.19 374.27,221.83 375.8,221.47 377.33,221.12 378.86,220.78 380.39,220.45 381.92,220.13 383.45,219.81 384.98,219.51 386.51,219.21 388.04,218.92 389.57,218.64 391.1,218.37 392.64,218.1 394.17,217.84 395.7,217.59 397.23,217.34 398.76,217.1 400.29,216.87 401.82,216.64 403.35,216.42 404.88,216.21 406.41,216 407.94,215.79 409.47,215.59 411,215.4 412.53,215.21 414.06,215.03 415.59,214.85 417.12,214.68 418.65,214.51 420.18,214.34 421.71,214.18 423.24,214.03 424.77,213.88 426.3,213.73 427.83,213.58 429.36,213.44 430.89,213.31 432.42,213.18 433.96,213.05 435.49,212.92 437.02,212.8 438.55,212.68 440.08,212.56 441.61,212.45 443.14,212.34 444.67,212.23 446.2,212.13 447.73,212.03 449.26,211.93 450.79,211.83 452.32,211.74 453.85,211.65 455.38,211.56 456.91,211.47 458.44,211.39 459.97,211.31 461.5,211.23 463.03,211.15 464.56,211.07 466.09,211 467.62,210.93 469.15,210.86 470.68,210.79 472.21,210.72 473.75,210.66 475.28,210.6 476.81,210.54 478.34,210.48 479.87,210.42 481.4,210.36 482.93,210.31 484.46,210.25 485.99,210.2 487.52,210.15 489.05,210.1 490.58,210.06 492.11,210.01 493.64,209.96 495.17,209.92 496.7,209.88 498.23,209.83 499.76,209.79 501.29,209.75 502.82,209.71 504.35,209.68 505.88,209.64 507.41,209.6 508.94,209.57 510.47,209.54 512,209.5 513.54,209.47 515.07,209.44 516.6,209.41 518.13,209.38 519.66,209.35 521.19,209.32 522.72,209.3 524.25,209.27 525.78,209.24 527.31,209.22 528.84,209.19 530.37,209.17 531.9,209.15 533.43,209.12 534.96,209.1 536.49,209.08 538.02,209.06 539.55,209.04 541.08,209.02 542.61,209 544.14,208.98 545.67,208.96 547.2,208.95 548.73,208.93 550.26,208.91 551.79,208.9 553.32,208.88 554.86,208.86 556.39,208.85 557.92,208.84 559.45,208.82 560.98,208.81 562.51,208.79 564.04,208.78 565.57,208.77 567.1,208.75 568.63,208.74 570.16,208.73" fill="none" stroke="#000" stroke-width="1.6"/>
<circle cx="265.61" cy="300.44" r="5.2" fill="none" stroke="#000" stroke-width="2.4"/>
<circle cx="296.07" cy="258.66" r="5.2" fill="none" stroke="#000" stroke-width="2.4"/>
<circle cx="326.52" cy="239.67" r="5.2" fill="none" stroke="#000" stroke-width="2.4"/>
<circle cx="356.98" cy="228.28" r="5.2" fill="none" stroke="#000" stroke-width="2.4"/>
<circle cx="387.43" cy="220.05" r="5.2" fill="none" stroke="#000" stroke-width="2.4"/>
<circle cx="417.89" cy="214.99" r="5.2" fill="none" stroke="#000" stroke-width="2.4"/>
<circle cx="448.34" cy="212.45" r="5.2" fill="none" stroke="#000" stroke-width="2.4"/>
<circle cx="478.8" cy="210.56" r="5.2" fill="none" stroke="#000" stroke-width="2.4"/>
<circle cx="509.25" cy="209.29" r="5.2" fill="none" stroke="#000" stroke-width="2.4"/>
<circle cx="539.7" cy="208.66" r="5.2" fill="none" stroke="#000" stroke-width="2.4"/>
<circle cx="570.16" cy="207.39" r="5.2" fill="none" stroke="#000" stroke-width="2.4"/>
<text x="252" y="228.65" font-family="&quot;Liberation Serif&quot;, serif" font-size="26" text-anchor="end">1.08</text>
<text x="252" y="291.95" font-family="&quot;Liberation Serif&quot;, serif" font-size="26" text-anchor="end">1.07</text>
<text x="349.96" y="340.5" font-family="&quot;Liberation Serif&quot;, serif" font-size="26" text-anchor="middle">16</text>
<text x="471.78" y="340.5" font-family="&quot;Liberation Serif&quot;, serif" font-size="26" text-anchor="middle">24</text>
<text x="593.6" y="340.5" font-family="&quot;Liberation Serif&quot;, serif" font-size="26" text-anchor="middle">32</text>
<text x="276" y="221.8" font-family="&quot;Liberation Sans&quot;, sans-serif" font-style="italic" font-size="31">b</text>
<text x="394" y="366.6" font-family="&quot;Liberation Sans&quot;, sans-serif" font-style="italic" font-size="25">r<tspan font-size="18" dy="10.5">C</tspan><tspan dy="-10.5" dx="2.5"> (Å)</tspan></text>
<rect x="258.0" y="397.1" width="335" height="126.2" fill="#fff" stroke="none"/>
<path d="M280.33,523.3v-3.8M280.33,397.1v3.8M302.67,523.3v-7M302.67,397.1v7M325,523.3v-3.8M325,397.1v3.8M347.33,523.3v-3.8M347.33,397.1v3.8M369.67,523.3v-3.8M369.67,397.1v3.8M392,523.3v-7M392,397.1v7M414.33,523.3v-3.8M414.33,397.1v3.8M436.67,523.3v-3.8M436.67,397.1v3.8M459,523.3v-3.8M459,397.1v3.8M481.33,523.3v-7M481.33,397.1v7M503.67,523.3v-3.8M503.67,397.1v3.8M526,523.3v-3.8M526,397.1v3.8M548.33,523.3v-3.8M548.33,397.1v3.8M570.67,523.3v-7M570.67,397.1v7M258.0,502.27h7.5M593.0,502.27h-7.5M258.0,481.23h4M593.0,481.23h-4M258.0,460.2h7.5M593.0,460.2h-7.5M258.0,439.17h4M593.0,439.17h-4M258.0,418.13h7.5M593.0,418.13h-7.5" stroke="#000" stroke-width="1.8" fill="none"/>
<rect x="258.0" y="397.1" width="335" height="126.2" fill="none" stroke="#000" stroke-width="2"/>
<circle cx="272.4" cy="415.8" r="4.4" fill="#f00"/>
<circle cx="277.5" cy="417.5" r="4.4" fill="#f00"/>
<circle cx="282.6" cy="419.2" r="4.4" fill="#f00"/>
<circle cx="287.1" cy="420.3" r="4.4" fill="#f00"/>
<circle cx="292.2" cy="421.5" r="4.4" fill="#f00"/>
<circle cx="296.7" cy="423.2" r="4.4" fill="#f00"/>
<circle cx="301.2" cy="424.9" r="4.4" fill="#f00"/>
<circle cx="306.3" cy="426.6" r="4.4" fill="#f00"/>
<circle cx="317.1" cy="428.8" r="4.4" fill="#f00"/>
<circle cx="328.4" cy="432.2" r="4.4" fill="#f00"/>
<line x1="272.4" y1="415.65" x2="578" y2="507.94" stroke="#000" stroke-width="1.8" stroke-dasharray="1.8 3.1"/>
<path d="M298.3,420.9h15M305.8,413.4v15M354.4,440.2h15M361.9,432.7v15M410.2,458.1h15M417.7,450.6v15M465.3,476.4h15M472.8,468.9v15M521.6,493.1h15M529.1,485.6v15M577.9,510.0h15M585.4,502.5v15" stroke="#000" stroke-width="2.6" fill="none"/>
<text x="252.2" y="427.03" font-family="&quot;Liberation Serif&quot;, serif" font-size="26" text-anchor="end">1.3</text>
<text x="252.2" y="469.1" font-family="&quot;Liberation Serif&quot;, serif" font-size="26" text-anchor="end">1.2</text>
<text x="252.2" y="511.17" font-family="&quot;Liberation Serif&quot;, serif" font-size="26" text-anchor="end">1.1</text>
<text x="303.27" y="549" font-family="&quot;Liberation Serif&quot;, serif" font-size="26" text-anchor="middle">320</text>
<text x="392.6" y="549" font-family="&quot;Liberation Serif&quot;, serif" font-size="26" text-anchor="middle">400</text>
<text x="481.93" y="549" font-family="&quot;Liberation Serif&quot;, serif" font-size="26" text-anchor="middle">480</text>
<text x="571.27" y="549" font-family="&quot;Liberation Serif&quot;, serif" font-size="26" text-anchor="middle">560</text>
<text x="273.6" y="508.6" font-family="&quot;Liberation Sans&quot;, sans-serif" font-style="italic" font-size="32">c</text>
<text x="398" y="576.6" font-family="&quot;Liberation Sans&quot;, sans-serif" font-style="italic" font-size="26">T (K)</text>
</svg></body></html>
